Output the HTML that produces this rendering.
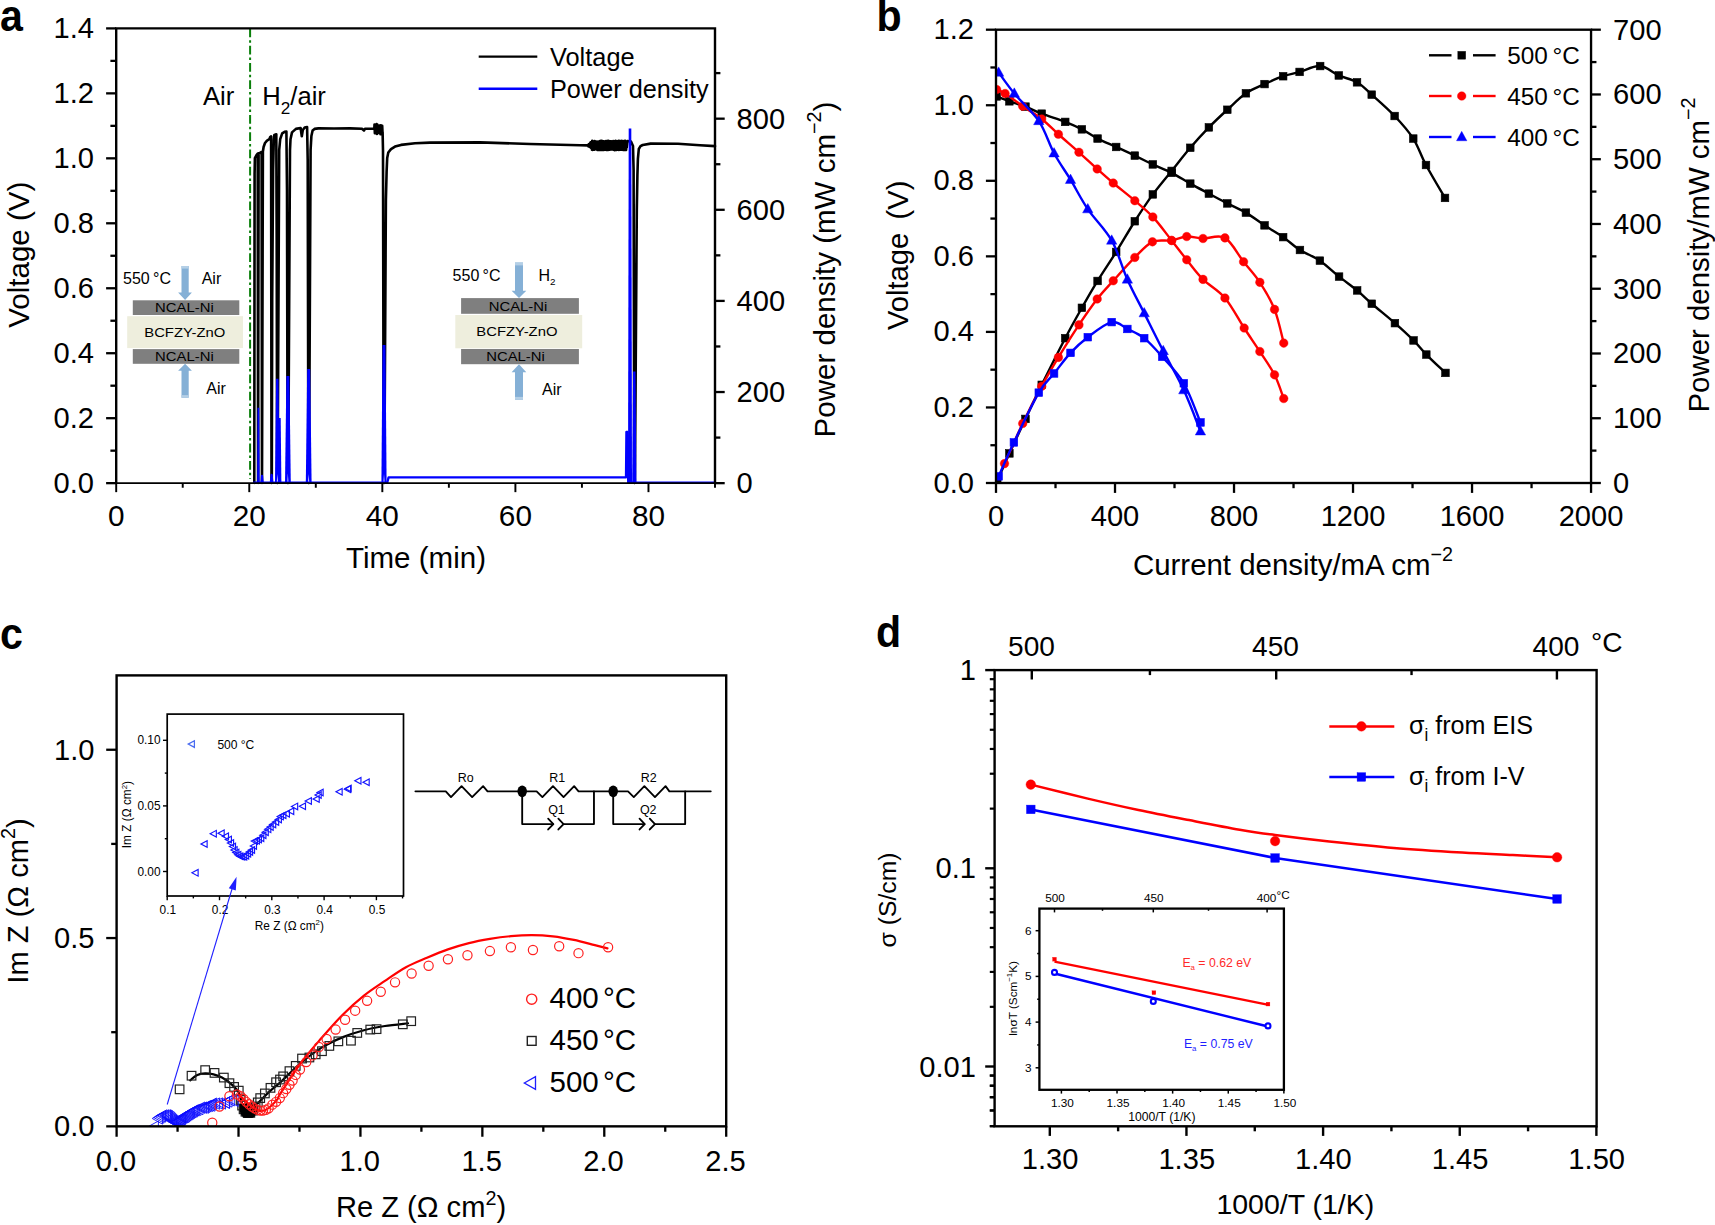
<!DOCTYPE html>
<html lang="en">
<head>
<meta charset="utf-8">
<title>Figure</title>
<style>
html,body{margin:0;padding:0;background:#fff;}
body{width:1715px;height:1225px;overflow:hidden;}
svg{display:block;font-family:'Liberation Sans', sans-serif;}
</style>
</head>
<body>
<svg width="1715" height="1225" viewBox="0 0 1715 1225">
<rect x="0" y="0" width="1715" height="1225" fill="#fff"/>
<g id="panel-a">
<line x1="250.1" y1="28.4" x2="250.1" y2="479" stroke="#0b7f0b" stroke-width="2" stroke-dasharray="8.8 3 2.5 3"/>
<rect x="132.8" y="300.3" width="106.5" height="14.7" fill="#7f7f7f"/>
<rect x="127.2" y="316.2" width="115.8" height="31.9" fill="#eeeedd"/>
<rect x="132.8" y="349.1" width="106.5" height="14.7" fill="#7f7f7f"/>
<polygon points="181.5,266 188.7,266 188.7,292.4 191.9,292.4 185.1,299.9 178.1,292.4 181.5,292.4" fill="#85b0d6"/>
<polygon points="181.5,397.7 188.7,397.7 188.7,370.8 191.9,370.8 185.1,363.8 178.1,370.8 181.5,370.8" fill="#85b0d6"/>
<text transform="translate(123 284.4) scale(1.04 1.04)" font-size="15.4" text-anchor="start" fill="#000" font-weight="normal" >550</text>
<text transform="translate(153 284.4) scale(1.04 1.04)" font-size="15.4" text-anchor="start" fill="#000" font-weight="normal" >°C</text>
<text transform="translate(201.7 284.4) scale(1.04 1.04)" font-size="15.4" text-anchor="start" fill="#000" font-weight="normal" >Air</text>
<text transform="translate(184.4 312) scale(1.17 1.04)" font-size="12.7" text-anchor="middle" fill="#000" font-weight="normal" >NCAL-Ni</text>
<text transform="translate(184.8 336.8) scale(1.17 1.04)" font-size="12.7" text-anchor="middle" fill="#000" font-weight="normal" >BCFZY-ZnO</text>
<text transform="translate(184.4 361) scale(1.17 1.04)" font-size="12.7" text-anchor="middle" fill="#000" font-weight="normal" >NCAL-Ni</text>
<text transform="translate(206.3 394) scale(1.04 1.04)" font-size="15.4" text-anchor="start" fill="#000" font-weight="normal" >Air</text>
<rect x="461.1" y="298.1" width="117.8" height="15.7" fill="#7f7f7f"/>
<rect x="455.3" y="315" width="126.9" height="33.3" fill="#eeeedd"/>
<rect x="461.1" y="349" width="117.8" height="15.2" fill="#7f7f7f"/>
<polygon points="515,262.6 523,262.6 523,290.7 526.3,290.7 519,298 511.6,290.7 515,290.7" fill="#85b0d6"/>
<polygon points="515,399.7 523,399.7 523,372.2 526.3,372.2 519,364.3 511.6,372.2 515,372.2" fill="#85b0d6"/>
<text transform="translate(452.6 281.3) scale(1.04 1.04)" font-size="15.4" text-anchor="start" fill="#000" font-weight="normal" >550</text>
<text transform="translate(482.6 281.3) scale(1.04 1.04)" font-size="15.4" text-anchor="start" fill="#000" font-weight="normal" >°C</text>
<text transform="translate(538.5 281.3) scale(1.04 1.04)" font-size="15.4" text-anchor="start" fill="#000">H<tspan font-size="9.5" dy="3.5">2</tspan></text>
<text transform="translate(518 310.7) scale(1.17 1.04)" font-size="12.7" text-anchor="middle" fill="#000" font-weight="normal" >NCAL-Ni</text>
<text transform="translate(516.9 335.8) scale(1.17 1.04)" font-size="12.7" text-anchor="middle" fill="#000" font-weight="normal" >BCFZY-ZnO</text>
<text transform="translate(515.5 360.9) scale(1.17 1.04)" font-size="12.7" text-anchor="middle" fill="#000" font-weight="normal" >NCAL-Ni</text>
<text transform="translate(542 395.2) scale(1.04 1.04)" font-size="15.4" text-anchor="start" fill="#000" font-weight="normal" >Air</text>
<rect x="181.5" y="266" width="7.2" height="2.6" fill="#b4cfe6"/>
<rect x="181.5" y="395.1" width="7.2" height="2.6" fill="#b4cfe6"/>
<rect x="515" y="262.6" width="8" height="2.8" fill="#b4cfe6"/>
<rect x="515" y="396.9" width="8" height="2.8" fill="#b4cfe6"/>
<polyline points="254.3,482.85 254.6,174 254.9,158 256.5,155 257.7,153.6 258.1,482.85 258.6,153.2 259.8,152.9 261.6,152 262,482.85 262.9,151.5 263.6,147 265,143 267,140.6 269.4,139.2 270.2,137 271.1,136.4 271.5,482.85 271.8,482.85 272.2,300 273.1,170 273.8,140 274.3,135 276.3,134.3 276.7,240 277.1,482.85 277.6,482.85 279.2,150 280.2,139.2 282.2,133.3 284.6,131.8 286.4,131.5 287,190 287.6,482.85 288.2,482.85 290,150 290.5,139.2 292,132.4 295.9,128.9 300.6,128 301.8,136.3 302.8,130 304.7,127.5 307.1,127 307.7,160 308.4,482.85 309,482.85 310.6,150 311.4,136 312.6,130.5 314.5,128.9 318.4,128.4 334,128.5 350,128.4 362,128.7 364,130.5 365,128.7 374.3,128.5 374.5,124.59 374.85,133.13 375.2,124.92 375.55,133.31 375.9,125.56 376.25,131.7 376.6,124.03 376.95,134.01 377.3,124.65 377.65,132.2 378,126.49 378.35,132.91 378.7,126.09 379.05,132.93 379.4,125.6 379.75,131.95 380.1,125.59 380.45,134.1 380.8,125.31 381.15,133.72 381.5,125.68 381.85,131.69 382.2,125.9 382.55,133.27 382.6,132 383,150 383.7,482.85 384.3,482.85 385.9,200 386.6,172 387.2,158 388.3,152.5 391,149.1 395,146.6 401,144.9 415,143.2 430,142.6 480,142.4 530,144 580,145.3 587.5,145.4 588,144.76 588.3,146.36 588.6,144.88 588.9,146.39 589.2,144.15 589.5,146.46 589.8,143.59 590.1,146.96 590.4,142.65 590.7,147.66 591,142.16 591.3,148.05 591.6,142.12 591.9,149.61 592.2,140.86 592.5,149.84 592.8,141.86 593.1,149.58 593.4,141.45 593.7,149.74 594,141.31 594.3,149.64 594.6,141.12 594.9,149.4 595.2,141.4 595.5,149.01 595.8,141.52 596.1,148.99 596.4,141.73 596.7,148.91 597,141.51 597.3,149.9 597.6,141.73 597.9,148.94 598.2,141.79 598.5,149.42 598.8,141.56 599.1,149.85 599.4,141.7 599.7,149.41 600,141.04 600.3,150.02 600.6,141.72 600.9,148.91 601.2,140.81 601.5,149.14 601.8,141.19 602.1,149.92 602.4,141.05 602.7,149.18 603,141.75 603.3,150.05 603.6,141.44 603.9,150.05 604.2,141.56 604.5,149.7 604.8,141.76 605.1,148.92 605.4,141.31 605.7,148.9 606,141.07 606.3,150.01 606.6,141.42 606.9,150.06 607.2,140.94 607.5,149.61 607.8,141.43 608.1,149.91 608.4,140.75 608.7,149.06 609,141.08 609.3,148.95 609.6,141.78 609.9,149.65 610.2,141.25 610.5,149.48 610.8,141.47 611.1,149.39 611.4,141.37 611.7,149.36 612,141.83 612.3,149.49 612.6,141.22 612.9,149.24 613.2,140.99 613.5,149.74 613.8,141.87 614.1,149.47 614.4,141.36 614.7,150.09 615,141.2 615.3,149.4 615.6,140.72 615.9,149.36 616.2,141.46 616.5,150.03 616.8,141.45 617.1,149.54 617.4,141.52 617.7,149.68 618,141.55 618.3,149.21 618.6,140.73 618.9,150.03 619.2,141.51 619.5,148.94 619.8,141 620.1,149.55 620.4,141.41 620.7,149.72 621,141.14 621.3,149.72 621.6,141.14 621.9,149.39 622.2,141.06 622.5,149.65 622.8,141.63 623.1,150.07 623.4,141.38 623.7,149.22 624,141.07 624.3,149.83 624.6,141.66 624.9,149.81 625.2,140.92 625.5,149.58 625.8,141.54 626.1,149.98 626.4,143.29 626.7,147.5 627.5,141 631,141.5 633,146 633.6,170 634.3,482.85 634.9,482.85 636.8,210 637.4,175 637.9,158.8 638.8,149 640.5,146.2 642.7,145 650.6,143.6 678,143.7 700,145.2 715,146.1" fill="none" stroke="#000" stroke-width="2.6" stroke-linejoin="round" stroke-linecap="round" stroke-linejoin="miter"/>
<polyline points="254,482.7 261.6,482.7 262,476 262.6,482.7 270.9,482.7 271.6,475 272.3,482.7 387.2,482.7 388.6,477.4 626,477.4 626.4,432 627.6,432 628.2,482.7 715,482.7" fill="none" stroke="#0000ff" stroke-width="2.3" stroke-linejoin="round" stroke-linecap="round" stroke-linejoin="miter"/>
<polygon points="257.1,483.7 257.5,407.7 259.3,407.7 259.7,483.7" fill="#0000ff"/>
<polygon points="275,483.7 276.1,378.8 278.5,378.8 279.6,483.7" fill="#0000ff"/>
<polygon points="276.85,481.5 277.3,473.7 277.75,481.5" fill="#fff"/>
<polygon points="278,483.7 278.7,418 280.7,418 281.4,483.7" fill="#0000ff"/>
<polygon points="285,483.7 286.4,375.9 289.4,375.9 290.8,483.7" fill="#0000ff"/>
<polygon points="287.45,481.5 287.9,473.7 288.35,481.5" fill="#fff"/>
<polygon points="305.8,483.7 307.2,369 310.2,369 311.6,483.7" fill="#0000ff"/>
<polygon points="308.25,481.5 308.7,473.7 309.15,481.5" fill="#fff"/>
<polygon points="381.4,483.7 382.5,345 385.5,345 386.6,483.7" fill="#0000ff"/>
<polygon points="383.55,481.5 384,473.7 384.45,481.5" fill="#fff"/>
<polygon points="628,483.7 628.7,128.4 631.3,128.4 632,483.7" fill="#0000ff"/>
<polygon points="632.2,483.7 633.1,371.4 635.5,371.4 636.4,483.7" fill="#0000ff"/>
<polyline points="116.2,483.95 116.2,28.4 715.0,28.4 715.0,483.95" fill="none" stroke="#000" stroke-width="2.4" stroke-linejoin="miter"/>
<line x1="115.05" y1="483" x2="716.15" y2="483" stroke="#000" stroke-width="1.75" />
<line x1="106.1" y1="483.15" x2="116.2" y2="483.15" stroke="#000" stroke-width="2.3" />
<text transform="translate(94 493.15) scale(1.04 1.04)" font-size="28" text-anchor="end" fill="#000" font-weight="normal" >0.0</text>
<line x1="110.4" y1="450.67" x2="116.2" y2="450.67" stroke="#000" stroke-width="2.3" />
<line x1="106.1" y1="418.19" x2="116.2" y2="418.19" stroke="#000" stroke-width="2.3" />
<text transform="translate(94 428.19) scale(1.04 1.04)" font-size="28" text-anchor="end" fill="#000" font-weight="normal" >0.2</text>
<line x1="110.4" y1="385.7" x2="116.2" y2="385.7" stroke="#000" stroke-width="2.3" />
<line x1="106.1" y1="353.22" x2="116.2" y2="353.22" stroke="#000" stroke-width="2.3" />
<text transform="translate(94 363.22) scale(1.04 1.04)" font-size="28" text-anchor="end" fill="#000" font-weight="normal" >0.4</text>
<line x1="110.4" y1="320.74" x2="116.2" y2="320.74" stroke="#000" stroke-width="2.3" />
<line x1="106.1" y1="288.26" x2="116.2" y2="288.26" stroke="#000" stroke-width="2.3" />
<text transform="translate(94 298.26) scale(1.04 1.04)" font-size="28" text-anchor="end" fill="#000" font-weight="normal" >0.6</text>
<line x1="110.4" y1="255.77" x2="116.2" y2="255.77" stroke="#000" stroke-width="2.3" />
<line x1="106.1" y1="223.29" x2="116.2" y2="223.29" stroke="#000" stroke-width="2.3" />
<text transform="translate(94 233.29) scale(1.04 1.04)" font-size="28" text-anchor="end" fill="#000" font-weight="normal" >0.8</text>
<line x1="110.4" y1="190.81" x2="116.2" y2="190.81" stroke="#000" stroke-width="2.3" />
<line x1="106.1" y1="158.33" x2="116.2" y2="158.33" stroke="#000" stroke-width="2.3" />
<text transform="translate(94 168.33) scale(1.04 1.04)" font-size="28" text-anchor="end" fill="#000" font-weight="normal" >1.0</text>
<line x1="110.4" y1="125.85" x2="116.2" y2="125.85" stroke="#000" stroke-width="2.3" />
<line x1="106.1" y1="93.36" x2="116.2" y2="93.36" stroke="#000" stroke-width="2.3" />
<text transform="translate(94 103.36) scale(1.04 1.04)" font-size="28" text-anchor="end" fill="#000" font-weight="normal" >1.2</text>
<line x1="110.4" y1="60.88" x2="116.2" y2="60.88" stroke="#000" stroke-width="2.3" />
<line x1="106.1" y1="28.4" x2="116.2" y2="28.4" stroke="#000" stroke-width="2.3" />
<text transform="translate(94 38.4) scale(1.04 1.04)" font-size="28" text-anchor="end" fill="#000" font-weight="normal" >1.4</text>
<line x1="116.2" y1="483.15" x2="116.2" y2="492.15" stroke="#000" stroke-width="1.95" />
<text transform="translate(116.2 526.2) scale(1.04 1.04)" font-size="28.6" text-anchor="middle" fill="#000" font-weight="normal" >0</text>
<line x1="182.73" y1="483.15" x2="182.73" y2="487.75" stroke="#000" stroke-width="1.95" />
<line x1="249.27" y1="483.15" x2="249.27" y2="492.15" stroke="#000" stroke-width="1.95" />
<text transform="translate(249.27 526.2) scale(1.04 1.04)" font-size="28.6" text-anchor="middle" fill="#000" font-weight="normal" >20</text>
<line x1="315.8" y1="483.15" x2="315.8" y2="487.75" stroke="#000" stroke-width="1.95" />
<line x1="382.33" y1="483.15" x2="382.33" y2="492.15" stroke="#000" stroke-width="1.95" />
<text transform="translate(382.33 526.2) scale(1.04 1.04)" font-size="28.6" text-anchor="middle" fill="#000" font-weight="normal" >40</text>
<line x1="448.87" y1="483.15" x2="448.87" y2="487.75" stroke="#000" stroke-width="1.95" />
<line x1="515.4" y1="483.15" x2="515.4" y2="492.15" stroke="#000" stroke-width="1.95" />
<text transform="translate(515.4 526.2) scale(1.04 1.04)" font-size="28.6" text-anchor="middle" fill="#000" font-weight="normal" >60</text>
<line x1="581.93" y1="483.15" x2="581.93" y2="487.75" stroke="#000" stroke-width="1.95" />
<line x1="648.47" y1="483.15" x2="648.47" y2="492.15" stroke="#000" stroke-width="1.95" />
<text transform="translate(648.47 526.2) scale(1.04 1.04)" font-size="28.6" text-anchor="middle" fill="#000" font-weight="normal" >80</text>
<line x1="715" y1="483.15" x2="715" y2="487.75" stroke="#000" stroke-width="1.95" />
<line x1="715" y1="483.15" x2="724.7" y2="483.15" stroke="#000" stroke-width="2.3" />
<text transform="translate(736.5 493.15) scale(1.04 1.04)" font-size="28" text-anchor="start" fill="#000" font-weight="normal" >0</text>
<line x1="715" y1="437.59" x2="720.4" y2="437.59" stroke="#000" stroke-width="2.3" />
<line x1="715" y1="392.03" x2="724.7" y2="392.03" stroke="#000" stroke-width="2.3" />
<text transform="translate(736.5 402.03) scale(1.04 1.04)" font-size="28" text-anchor="start" fill="#000" font-weight="normal" >200</text>
<line x1="715" y1="346.47" x2="720.4" y2="346.47" stroke="#000" stroke-width="2.3" />
<line x1="715" y1="300.91" x2="724.7" y2="300.91" stroke="#000" stroke-width="2.3" />
<text transform="translate(736.5 310.91) scale(1.04 1.04)" font-size="28" text-anchor="start" fill="#000" font-weight="normal" >400</text>
<line x1="715" y1="255.35" x2="720.4" y2="255.35" stroke="#000" stroke-width="2.3" />
<line x1="715" y1="209.79" x2="724.7" y2="209.79" stroke="#000" stroke-width="2.3" />
<text transform="translate(736.5 219.79) scale(1.04 1.04)" font-size="28" text-anchor="start" fill="#000" font-weight="normal" >600</text>
<line x1="715" y1="164.23" x2="720.4" y2="164.23" stroke="#000" stroke-width="2.3" />
<line x1="715" y1="118.67" x2="724.7" y2="118.67" stroke="#000" stroke-width="2.3" />
<text transform="translate(736.5 128.67) scale(1.04 1.04)" font-size="28" text-anchor="start" fill="#000" font-weight="normal" >800</text>
<line x1="715" y1="73.11" x2="720.4" y2="73.11" stroke="#000" stroke-width="2.3" />
<text transform="translate(28.7 254.7) rotate(-90) scale(1.04 1.04)" font-size="28.4" text-anchor="middle" fill="#000" font-weight="normal" >Voltage (V)</text>
<text transform="translate(416 568) scale(1.04 1.04)" font-size="28.4" text-anchor="middle" fill="#000" font-weight="normal" >Time (min)</text>
<text transform="translate(835.3 269.5) rotate(-90) scale(1.04 1.04)" font-size="28.4" text-anchor="middle" fill="#000">Power density (mW cm<tspan font-size="19" dy="-13.5">−2</tspan><tspan dy="13.5">)</tspan></text>
<line x1="478.7" y1="56.6" x2="537.3" y2="56.6" stroke="#000" stroke-width="2.4" />
<line x1="478.7" y1="88.7" x2="537.3" y2="88.7" stroke="#0000ff" stroke-width="2.4" />
<text transform="translate(550 65.8) scale(1.04 1.04)" font-size="24.4" text-anchor="start" fill="#000" font-weight="normal" >Voltage</text>
<text transform="translate(550 97.5) scale(1.04 1.04)" font-size="24.3" text-anchor="start" fill="#000" font-weight="normal" >Power density</text>
<text transform="translate(203 105) scale(1.04 1.04)" font-size="24.6" text-anchor="start" fill="#000" font-weight="normal" >Air</text>
<text transform="translate(262.3 105) scale(1.04 1.04)" font-size="24.6" text-anchor="start" fill="#000">H<tspan font-size="16.5" dy="8.6">2</tspan><tspan dy="-8.6">/air</tspan></text>
<text transform="translate(0 30.7) scale(0.98 1.04)" font-size="42" text-anchor="start" fill="#000" font-weight="bold" >a</text>
</g>
<g id="panel-b">
<clipPath id="clipb"><rect x="996.0" y="29.7" width="595.05" height="453.3"/></clipPath>
<g clip-path="url(#clipb)">
<path d="M996.66,96.43 C998.78,97.24 1004.59,99.63 1009.39,101.32 C1014.2,103.02 1020.07,104.56 1025.46,106.62 C1030.85,108.67 1035.1,111.12 1041.73,113.67 C1048.36,116.22 1058.55,119.29 1065.24,121.9 C1071.94,124.51 1076.51,126.57 1081.9,129.35 C1087.29,132.12 1091.86,135.62 1097.58,138.56 C1103.29,141.5 1109.99,144.14 1116.19,146.98 C1122.4,149.83 1128.7,152.7 1134.81,155.61 C1140.92,158.51 1146.7,161.55 1152.84,164.42 C1158.98,167.3 1165.41,169.65 1171.65,172.85 C1177.89,176.05 1184.06,180.17 1190.27,183.63 C1196.47,187.09 1202.71,190.32 1208.88,193.62 C1215.06,196.92 1221.13,200.25 1227.31,203.42 C1233.48,206.59 1239.72,208.97 1245.92,212.63 C1252.13,216.29 1258.33,221.29 1264.54,225.37 C1270.74,229.45 1277.25,233.02 1283.16,237.13 C1289.06,241.23 1293.83,246.08 1299.95,250 C1306.08,253.92 1313.39,256.21 1319.9,260.64 C1326.42,265.07 1332.85,271.64 1339.06,276.6 C1345.27,281.57 1351.69,285.91 1357.15,290.44 C1362.6,294.96 1365.48,298.28 1371.78,303.74 C1378.08,309.19 1387.96,317.04 1394.92,323.16 C1401.89,329.28 1408.31,335.22 1413.55,340.45 C1418.78,345.68 1420.99,349.14 1426.32,354.55 C1431.64,359.96 1442.28,369.85 1445.47,372.91" fill="none" stroke="#000" stroke-width="2.4" stroke-linejoin="round" stroke-linecap="round" />
<path d="M997.24,480.84 C999.27,476.27 1004.69,463.73 1009.39,453.41 C1014.1,443.09 1020.07,430.35 1025.46,418.92 C1030.85,407.49 1035.1,398.28 1041.73,384.82 C1048.36,371.37 1058.55,351.02 1065.24,338.18 C1071.94,325.35 1076.51,317.35 1081.9,307.81 C1087.29,298.27 1091.86,290.27 1097.58,280.96 C1103.29,271.65 1109.99,261.91 1116.19,251.96 C1122.4,242.01 1128.7,230.85 1134.81,221.25 C1140.92,211.66 1146.7,202.8 1152.84,194.41 C1158.98,186.01 1165.41,178.66 1171.65,170.89 C1177.89,163.12 1184.06,155.02 1190.27,147.77 C1196.47,140.52 1202.71,133.72 1208.88,127.39 C1215.06,121.05 1221.13,115.43 1227.31,109.75 C1233.48,104.07 1239.72,97.57 1245.92,93.29 C1252.13,89.01 1258.33,86.92 1264.54,84.08 C1270.74,81.24 1277.31,78.27 1283.16,76.24 C1289,74.22 1293.43,73.63 1299.6,71.93 C1305.77,70.23 1313.64,65.46 1320.17,66.05 C1326.7,66.64 1332.65,72.75 1338.79,75.46 C1344.93,78.17 1351.53,79.12 1357.01,82.32 C1362.5,85.52 1365.44,89.04 1371.71,94.66 C1377.98,100.28 1387.71,108.71 1394.64,116.02 C1401.56,123.34 1408.03,130.39 1413.25,138.56 C1418.48,146.72 1420.7,155.12 1425.99,165.01 C1431.28,174.91 1441.83,192.45 1445,197.93" fill="none" stroke="#000" stroke-width="2.4" stroke-linejoin="round" stroke-linecap="round" />
<rect x="992.86" y="92.63" width="7.6" height="7.6" fill="#000" stroke="#000" stroke-width="0.6"/>
<rect x="1005.59" y="97.52" width="7.6" height="7.6" fill="#000" stroke="#000" stroke-width="0.6"/>
<rect x="1021.66" y="102.82" width="7.6" height="7.6" fill="#000" stroke="#000" stroke-width="0.6"/>
<rect x="1037.93" y="109.87" width="7.6" height="7.6" fill="#000" stroke="#000" stroke-width="0.6"/>
<rect x="1061.44" y="118.1" width="7.6" height="7.6" fill="#000" stroke="#000" stroke-width="0.6"/>
<rect x="1078.1" y="125.55" width="7.6" height="7.6" fill="#000" stroke="#000" stroke-width="0.6"/>
<rect x="1093.78" y="134.76" width="7.6" height="7.6" fill="#000" stroke="#000" stroke-width="0.6"/>
<rect x="1112.39" y="143.18" width="7.6" height="7.6" fill="#000" stroke="#000" stroke-width="0.6"/>
<rect x="1131.01" y="151.81" width="7.6" height="7.6" fill="#000" stroke="#000" stroke-width="0.6"/>
<rect x="1149.04" y="160.62" width="7.6" height="7.6" fill="#000" stroke="#000" stroke-width="0.6"/>
<rect x="1167.85" y="169.05" width="7.6" height="7.6" fill="#000" stroke="#000" stroke-width="0.6"/>
<rect x="1186.47" y="179.83" width="7.6" height="7.6" fill="#000" stroke="#000" stroke-width="0.6"/>
<rect x="1205.08" y="189.82" width="7.6" height="7.6" fill="#000" stroke="#000" stroke-width="0.6"/>
<rect x="1223.51" y="199.62" width="7.6" height="7.6" fill="#000" stroke="#000" stroke-width="0.6"/>
<rect x="1242.12" y="208.83" width="7.6" height="7.6" fill="#000" stroke="#000" stroke-width="0.6"/>
<rect x="1260.74" y="221.57" width="7.6" height="7.6" fill="#000" stroke="#000" stroke-width="0.6"/>
<rect x="1279.36" y="233.33" width="7.6" height="7.6" fill="#000" stroke="#000" stroke-width="0.6"/>
<rect x="1296.15" y="246.2" width="7.6" height="7.6" fill="#000" stroke="#000" stroke-width="0.6"/>
<rect x="1316.1" y="256.84" width="7.6" height="7.6" fill="#000" stroke="#000" stroke-width="0.6"/>
<rect x="1335.26" y="272.8" width="7.6" height="7.6" fill="#000" stroke="#000" stroke-width="0.6"/>
<rect x="1353.35" y="286.64" width="7.6" height="7.6" fill="#000" stroke="#000" stroke-width="0.6"/>
<rect x="1367.98" y="299.94" width="7.6" height="7.6" fill="#000" stroke="#000" stroke-width="0.6"/>
<rect x="1391.12" y="319.36" width="7.6" height="7.6" fill="#000" stroke="#000" stroke-width="0.6"/>
<rect x="1409.75" y="336.65" width="7.6" height="7.6" fill="#000" stroke="#000" stroke-width="0.6"/>
<rect x="1422.52" y="350.75" width="7.6" height="7.6" fill="#000" stroke="#000" stroke-width="0.6"/>
<rect x="1441.67" y="369.11" width="7.6" height="7.6" fill="#000" stroke="#000" stroke-width="0.6"/>
<rect x="993.44" y="477.04" width="7.6" height="7.6" fill="#000" stroke="#000" stroke-width="0.6"/>
<rect x="1005.59" y="449.61" width="7.6" height="7.6" fill="#000" stroke="#000" stroke-width="0.6"/>
<rect x="1021.66" y="415.12" width="7.6" height="7.6" fill="#000" stroke="#000" stroke-width="0.6"/>
<rect x="1037.93" y="381.02" width="7.6" height="7.6" fill="#000" stroke="#000" stroke-width="0.6"/>
<rect x="1061.44" y="334.38" width="7.6" height="7.6" fill="#000" stroke="#000" stroke-width="0.6"/>
<rect x="1078.1" y="304.01" width="7.6" height="7.6" fill="#000" stroke="#000" stroke-width="0.6"/>
<rect x="1093.78" y="277.16" width="7.6" height="7.6" fill="#000" stroke="#000" stroke-width="0.6"/>
<rect x="1112.39" y="248.16" width="7.6" height="7.6" fill="#000" stroke="#000" stroke-width="0.6"/>
<rect x="1131.01" y="217.45" width="7.6" height="7.6" fill="#000" stroke="#000" stroke-width="0.6"/>
<rect x="1149.04" y="190.61" width="7.6" height="7.6" fill="#000" stroke="#000" stroke-width="0.6"/>
<rect x="1167.85" y="167.09" width="7.6" height="7.6" fill="#000" stroke="#000" stroke-width="0.6"/>
<rect x="1186.47" y="143.97" width="7.6" height="7.6" fill="#000" stroke="#000" stroke-width="0.6"/>
<rect x="1205.08" y="123.59" width="7.6" height="7.6" fill="#000" stroke="#000" stroke-width="0.6"/>
<rect x="1223.51" y="105.95" width="7.6" height="7.6" fill="#000" stroke="#000" stroke-width="0.6"/>
<rect x="1242.12" y="89.49" width="7.6" height="7.6" fill="#000" stroke="#000" stroke-width="0.6"/>
<rect x="1260.74" y="80.28" width="7.6" height="7.6" fill="#000" stroke="#000" stroke-width="0.6"/>
<rect x="1279.36" y="72.44" width="7.6" height="7.6" fill="#000" stroke="#000" stroke-width="0.6"/>
<rect x="1295.8" y="68.13" width="7.6" height="7.6" fill="#000" stroke="#000" stroke-width="0.6"/>
<rect x="1316.37" y="62.25" width="7.6" height="7.6" fill="#000" stroke="#000" stroke-width="0.6"/>
<rect x="1334.99" y="71.66" width="7.6" height="7.6" fill="#000" stroke="#000" stroke-width="0.6"/>
<rect x="1353.21" y="78.52" width="7.6" height="7.6" fill="#000" stroke="#000" stroke-width="0.6"/>
<rect x="1367.91" y="90.86" width="7.6" height="7.6" fill="#000" stroke="#000" stroke-width="0.6"/>
<rect x="1390.84" y="112.22" width="7.6" height="7.6" fill="#000" stroke="#000" stroke-width="0.6"/>
<rect x="1409.45" y="134.76" width="7.6" height="7.6" fill="#000" stroke="#000" stroke-width="0.6"/>
<rect x="1422.19" y="161.21" width="7.6" height="7.6" fill="#000" stroke="#000" stroke-width="0.6"/>
<rect x="1441.2" y="194.13" width="7.6" height="7.6" fill="#000" stroke="#000" stroke-width="0.6"/>
<path d="M996.66,89.57 C998.06,90.22 1000.74,90.71 1005.08,93.49 C1009.43,96.26 1016.61,101.98 1022.72,106.22 C1028.83,110.47 1035.78,114.29 1041.73,118.96 C1047.67,123.63 1052.18,128.69 1058.39,134.25 C1064.59,139.8 1072.49,146.49 1078.96,152.28 C1085.43,158.06 1091.47,163.8 1097.19,168.93 C1102.9,174.06 1106.98,177.75 1113.25,183.04 C1119.53,188.33 1128.21,195.03 1134.81,200.68 C1141.41,206.33 1146.7,210.31 1152.84,216.94 C1158.98,223.57 1166,233.32 1171.65,240.46 C1177.3,247.6 1181.52,253.31 1186.74,259.8 C1191.97,266.29 1196.64,273.03 1203.01,279.39 C1209.37,285.76 1218.1,289.91 1224.95,298.01 C1231.81,306.11 1238.34,319.08 1244.16,327.99 C1249.97,336.91 1254.77,343.7 1259.84,351.51 C1264.9,359.31 1270.55,366.99 1274.53,374.83 C1278.52,382.67 1282.21,394.59 1283.74,398.54" fill="none" stroke="#ff0000" stroke-width="2.4" stroke-linejoin="round" stroke-linecap="round" />
<path d="M1004.5,463.6 C1007.53,456.9 1016.51,436.33 1022.72,423.43 C1028.93,410.53 1035.78,397.2 1041.73,386.19 C1047.67,375.19 1052.18,367.61 1058.39,357.39 C1064.59,347.17 1072.49,334.59 1078.96,324.86 C1085.43,315.13 1091.47,306.34 1097.19,298.99 C1102.9,291.64 1106.98,287.69 1113.25,280.77 C1119.53,273.84 1128.28,263.94 1134.81,257.45 C1141.34,250.96 1146.31,244.66 1152.45,241.83 C1158.59,239 1165.94,241.34 1171.65,240.46 C1177.37,239.58 1181.52,236.87 1186.74,236.54 C1191.97,236.21 1196.64,238.27 1203.01,238.5 C1209.37,238.73 1218.19,234.03 1224.95,237.91 C1231.71,241.79 1237.76,254.35 1243.57,261.76 C1249.38,269.16 1254.68,274.4 1259.84,282.33 C1265,290.27 1270.55,299.25 1274.53,309.38 C1278.52,319.5 1282.21,337.46 1283.74,343.08" fill="none" stroke="#ff0000" stroke-width="2.4" stroke-linejoin="round" stroke-linecap="round" />
<circle cx="996.66" cy="89.57" r="4.3" fill="#ff0000" stroke="#ff0000" stroke-width="0.4"/>
<circle cx="1005.08" cy="93.49" r="4.3" fill="#ff0000" stroke="#ff0000" stroke-width="0.4"/>
<circle cx="1022.72" cy="106.22" r="4.3" fill="#ff0000" stroke="#ff0000" stroke-width="0.4"/>
<circle cx="1041.73" cy="118.96" r="4.3" fill="#ff0000" stroke="#ff0000" stroke-width="0.4"/>
<circle cx="1058.39" cy="134.25" r="4.3" fill="#ff0000" stroke="#ff0000" stroke-width="0.4"/>
<circle cx="1078.96" cy="152.28" r="4.3" fill="#ff0000" stroke="#ff0000" stroke-width="0.4"/>
<circle cx="1097.19" cy="168.93" r="4.3" fill="#ff0000" stroke="#ff0000" stroke-width="0.4"/>
<circle cx="1113.25" cy="183.04" r="4.3" fill="#ff0000" stroke="#ff0000" stroke-width="0.4"/>
<circle cx="1134.81" cy="200.68" r="4.3" fill="#ff0000" stroke="#ff0000" stroke-width="0.4"/>
<circle cx="1152.84" cy="216.94" r="4.3" fill="#ff0000" stroke="#ff0000" stroke-width="0.4"/>
<circle cx="1171.65" cy="240.46" r="4.3" fill="#ff0000" stroke="#ff0000" stroke-width="0.4"/>
<circle cx="1186.74" cy="259.8" r="4.3" fill="#ff0000" stroke="#ff0000" stroke-width="0.4"/>
<circle cx="1203.01" cy="279.39" r="4.3" fill="#ff0000" stroke="#ff0000" stroke-width="0.4"/>
<circle cx="1224.95" cy="298.01" r="4.3" fill="#ff0000" stroke="#ff0000" stroke-width="0.4"/>
<circle cx="1244.16" cy="327.99" r="4.3" fill="#ff0000" stroke="#ff0000" stroke-width="0.4"/>
<circle cx="1259.84" cy="351.51" r="4.3" fill="#ff0000" stroke="#ff0000" stroke-width="0.4"/>
<circle cx="1274.53" cy="374.83" r="4.3" fill="#ff0000" stroke="#ff0000" stroke-width="0.4"/>
<circle cx="1283.74" cy="398.54" r="4.3" fill="#ff0000" stroke="#ff0000" stroke-width="0.4"/>
<circle cx="1004.5" cy="463.6" r="4.3" fill="#ff0000" stroke="#ff0000" stroke-width="0.4"/>
<circle cx="1022.72" cy="423.43" r="4.3" fill="#ff0000" stroke="#ff0000" stroke-width="0.4"/>
<circle cx="1041.73" cy="386.19" r="4.3" fill="#ff0000" stroke="#ff0000" stroke-width="0.4"/>
<circle cx="1058.39" cy="357.39" r="4.3" fill="#ff0000" stroke="#ff0000" stroke-width="0.4"/>
<circle cx="1078.96" cy="324.86" r="4.3" fill="#ff0000" stroke="#ff0000" stroke-width="0.4"/>
<circle cx="1097.19" cy="298.99" r="4.3" fill="#ff0000" stroke="#ff0000" stroke-width="0.4"/>
<circle cx="1113.25" cy="280.77" r="4.3" fill="#ff0000" stroke="#ff0000" stroke-width="0.4"/>
<circle cx="1134.81" cy="257.45" r="4.3" fill="#ff0000" stroke="#ff0000" stroke-width="0.4"/>
<circle cx="1152.45" cy="241.83" r="4.3" fill="#ff0000" stroke="#ff0000" stroke-width="0.4"/>
<circle cx="1171.65" cy="240.46" r="4.3" fill="#ff0000" stroke="#ff0000" stroke-width="0.4"/>
<circle cx="1186.74" cy="236.54" r="4.3" fill="#ff0000" stroke="#ff0000" stroke-width="0.4"/>
<circle cx="1203.01" cy="238.5" r="4.3" fill="#ff0000" stroke="#ff0000" stroke-width="0.4"/>
<circle cx="1224.95" cy="237.91" r="4.3" fill="#ff0000" stroke="#ff0000" stroke-width="0.4"/>
<circle cx="1243.57" cy="261.76" r="4.3" fill="#ff0000" stroke="#ff0000" stroke-width="0.4"/>
<circle cx="1259.84" cy="282.33" r="4.3" fill="#ff0000" stroke="#ff0000" stroke-width="0.4"/>
<circle cx="1274.53" cy="309.38" r="4.3" fill="#ff0000" stroke="#ff0000" stroke-width="0.4"/>
<circle cx="1283.74" cy="343.08" r="4.3" fill="#ff0000" stroke="#ff0000" stroke-width="0.4"/>
<path d="M998.62,72.52 C1001.23,76.01 1007.6,85.42 1014.29,93.49 C1020.99,101.55 1032.16,110.96 1038.79,120.92 C1045.42,130.88 1048.78,143.46 1054.07,153.25 C1059.37,163.05 1064.92,170.4 1070.53,179.71 C1076.15,189.02 1080.92,198.98 1087.78,209.1 C1094.64,219.23 1105.09,228.74 1111.69,240.46 C1118.28,252.17 1121.94,267.29 1127.36,279.39 C1132.79,291.5 1138.24,301.18 1144.22,313.1 C1150.19,325.02 1156.63,338.09 1163.23,350.92 C1169.82,363.76 1177.6,376.72 1183.8,390.11 C1190.01,403.5 1197.68,424.41 1200.46,431.27" fill="none" stroke="#0000ff" stroke-width="2.4" stroke-linejoin="round" stroke-linecap="round" />
<path d="M998.62,476.34 C1001.16,470.69 1007.21,456.38 1013.9,442.44 C1020.6,428.49 1032.09,404.16 1038.79,392.66 C1045.48,381.16 1048.78,380.09 1054.07,373.46 C1059.37,366.83 1064.92,358.92 1070.53,352.88 C1076.15,346.84 1080.92,342.33 1087.78,337.2 C1094.64,332.08 1105.09,323.49 1111.69,322.11 C1118.28,320.74 1121.94,326.29 1127.36,328.97 C1132.79,331.65 1138.4,333.55 1144.22,338.18 C1150.03,342.82 1155.65,349.29 1162.25,356.8 C1168.84,364.31 1177.43,372.31 1183.8,383.25 C1190.17,394.2 1197.68,415.92 1200.46,422.45" fill="none" stroke="#0000ff" stroke-width="2.4" stroke-linejoin="round" stroke-linecap="round" />
<polygon points="998.62,66.88 993.42,76.28 1003.82,76.28" fill="#0000ff" stroke="#0000ff" stroke-width="0.4"/>
<polygon points="1014.29,87.85 1009.09,97.25 1019.49,97.25" fill="#0000ff" stroke="#0000ff" stroke-width="0.4"/>
<polygon points="1038.79,115.28 1033.59,124.68 1043.99,124.68" fill="#0000ff" stroke="#0000ff" stroke-width="0.4"/>
<polygon points="1054.07,147.61 1048.87,157.01 1059.27,157.01" fill="#0000ff" stroke="#0000ff" stroke-width="0.4"/>
<polygon points="1070.53,174.07 1065.33,183.47 1075.73,183.47" fill="#0000ff" stroke="#0000ff" stroke-width="0.4"/>
<polygon points="1087.78,203.46 1082.58,212.86 1092.98,212.86" fill="#0000ff" stroke="#0000ff" stroke-width="0.4"/>
<polygon points="1111.69,234.82 1106.49,244.22 1116.89,244.22" fill="#0000ff" stroke="#0000ff" stroke-width="0.4"/>
<polygon points="1127.36,273.75 1122.16,283.15 1132.56,283.15" fill="#0000ff" stroke="#0000ff" stroke-width="0.4"/>
<polygon points="1144.22,307.46 1139.02,316.86 1149.42,316.86" fill="#0000ff" stroke="#0000ff" stroke-width="0.4"/>
<polygon points="1163.23,345.28 1158.03,354.68 1168.43,354.68" fill="#0000ff" stroke="#0000ff" stroke-width="0.4"/>
<polygon points="1183.8,384.47 1178.6,393.87 1189,393.87" fill="#0000ff" stroke="#0000ff" stroke-width="0.4"/>
<polygon points="1200.46,425.63 1195.26,435.03 1205.66,435.03" fill="#0000ff" stroke="#0000ff" stroke-width="0.4"/>
<rect x="994.82" y="472.54" width="7.6" height="7.6" fill="#0000ff" stroke="#0000ff" stroke-width="0.6"/>
<rect x="1010.1" y="438.64" width="7.6" height="7.6" fill="#0000ff" stroke="#0000ff" stroke-width="0.6"/>
<rect x="1034.99" y="388.86" width="7.6" height="7.6" fill="#0000ff" stroke="#0000ff" stroke-width="0.6"/>
<rect x="1050.27" y="369.66" width="7.6" height="7.6" fill="#0000ff" stroke="#0000ff" stroke-width="0.6"/>
<rect x="1066.73" y="349.08" width="7.6" height="7.6" fill="#0000ff" stroke="#0000ff" stroke-width="0.6"/>
<rect x="1083.98" y="333.4" width="7.6" height="7.6" fill="#0000ff" stroke="#0000ff" stroke-width="0.6"/>
<rect x="1107.89" y="318.31" width="7.6" height="7.6" fill="#0000ff" stroke="#0000ff" stroke-width="0.6"/>
<rect x="1123.56" y="325.17" width="7.6" height="7.6" fill="#0000ff" stroke="#0000ff" stroke-width="0.6"/>
<rect x="1140.42" y="334.38" width="7.6" height="7.6" fill="#0000ff" stroke="#0000ff" stroke-width="0.6"/>
<rect x="1158.45" y="353" width="7.6" height="7.6" fill="#0000ff" stroke="#0000ff" stroke-width="0.6"/>
<rect x="1180" y="379.45" width="7.6" height="7.6" fill="#0000ff" stroke="#0000ff" stroke-width="0.6"/>
<rect x="1196.66" y="418.65" width="7.6" height="7.6" fill="#0000ff" stroke="#0000ff" stroke-width="0.6"/>
</g>
<rect x="996.0" y="29.7" width="595.05" height="453.3" fill="none" stroke="#000" stroke-width="2.35"/>
<line x1="985.9" y1="483" x2="996" y2="483" stroke="#000" stroke-width="2.3" />
<text transform="translate(974 492.5) scale(1.04 1.04)" font-size="28" text-anchor="end" fill="#000" font-weight="normal" >0.0</text>
<line x1="990.4" y1="445.23" x2="996" y2="445.23" stroke="#000" stroke-width="2.3" />
<line x1="985.9" y1="407.45" x2="996" y2="407.45" stroke="#000" stroke-width="2.3" />
<text transform="translate(974 416.95) scale(1.04 1.04)" font-size="28" text-anchor="end" fill="#000" font-weight="normal" >0.2</text>
<line x1="990.4" y1="369.68" x2="996" y2="369.68" stroke="#000" stroke-width="2.3" />
<line x1="985.9" y1="331.9" x2="996" y2="331.9" stroke="#000" stroke-width="2.3" />
<text transform="translate(974 341.4) scale(1.04 1.04)" font-size="28" text-anchor="end" fill="#000" font-weight="normal" >0.4</text>
<line x1="990.4" y1="294.12" x2="996" y2="294.12" stroke="#000" stroke-width="2.3" />
<line x1="985.9" y1="256.35" x2="996" y2="256.35" stroke="#000" stroke-width="2.3" />
<text transform="translate(974 265.85) scale(1.04 1.04)" font-size="28" text-anchor="end" fill="#000" font-weight="normal" >0.6</text>
<line x1="990.4" y1="218.57" x2="996" y2="218.57" stroke="#000" stroke-width="2.3" />
<line x1="985.9" y1="180.8" x2="996" y2="180.8" stroke="#000" stroke-width="2.3" />
<text transform="translate(974 190.3) scale(1.04 1.04)" font-size="28" text-anchor="end" fill="#000" font-weight="normal" >0.8</text>
<line x1="990.4" y1="143.02" x2="996" y2="143.02" stroke="#000" stroke-width="2.3" />
<line x1="985.9" y1="105.25" x2="996" y2="105.25" stroke="#000" stroke-width="2.3" />
<text transform="translate(974 114.75) scale(1.04 1.04)" font-size="28" text-anchor="end" fill="#000" font-weight="normal" >1.0</text>
<line x1="990.4" y1="67.47" x2="996" y2="67.47" stroke="#000" stroke-width="2.3" />
<line x1="985.9" y1="29.7" x2="996" y2="29.7" stroke="#000" stroke-width="2.3" />
<text transform="translate(974 39.2) scale(1.04 1.04)" font-size="28" text-anchor="end" fill="#000" font-weight="normal" >1.2</text>
<line x1="996" y1="483" x2="996" y2="492.9" stroke="#000" stroke-width="2.3" />
<text transform="translate(996 526.4) scale(1.04 1.04)" font-size="28" text-anchor="middle" fill="#000" font-weight="normal" >0</text>
<line x1="1055.51" y1="483" x2="1055.51" y2="488.2" stroke="#000" stroke-width="2.3" />
<line x1="1115.01" y1="483" x2="1115.01" y2="492.9" stroke="#000" stroke-width="2.3" />
<text transform="translate(1115.01 526.4) scale(1.04 1.04)" font-size="28" text-anchor="middle" fill="#000" font-weight="normal" >400</text>
<line x1="1174.51" y1="483" x2="1174.51" y2="488.2" stroke="#000" stroke-width="2.3" />
<line x1="1234.02" y1="483" x2="1234.02" y2="492.9" stroke="#000" stroke-width="2.3" />
<text transform="translate(1234.02 526.4) scale(1.04 1.04)" font-size="28" text-anchor="middle" fill="#000" font-weight="normal" >800</text>
<line x1="1293.53" y1="483" x2="1293.53" y2="488.2" stroke="#000" stroke-width="2.3" />
<line x1="1353.03" y1="483" x2="1353.03" y2="492.9" stroke="#000" stroke-width="2.3" />
<text transform="translate(1353.03 526.4) scale(1.04 1.04)" font-size="28" text-anchor="middle" fill="#000" font-weight="normal" >1200</text>
<line x1="1412.53" y1="483" x2="1412.53" y2="488.2" stroke="#000" stroke-width="2.3" />
<line x1="1472.04" y1="483" x2="1472.04" y2="492.9" stroke="#000" stroke-width="2.3" />
<text transform="translate(1472.04 526.4) scale(1.04 1.04)" font-size="28" text-anchor="middle" fill="#000" font-weight="normal" >1600</text>
<line x1="1531.55" y1="483" x2="1531.55" y2="488.2" stroke="#000" stroke-width="2.3" />
<line x1="1591.05" y1="483" x2="1591.05" y2="492.9" stroke="#000" stroke-width="2.3" />
<text transform="translate(1591.05 526.4) scale(1.04 1.04)" font-size="28" text-anchor="middle" fill="#000" font-weight="normal" >2000</text>
<line x1="1591.05" y1="483" x2="1600.85" y2="483" stroke="#000" stroke-width="2.3" />
<text transform="translate(1613 493) scale(1.04 1.04)" font-size="28" text-anchor="start" fill="#000" font-weight="normal" >0</text>
<line x1="1591.05" y1="450.62" x2="1596.45" y2="450.62" stroke="#000" stroke-width="2.3" />
<line x1="1591.05" y1="418.24" x2="1600.85" y2="418.24" stroke="#000" stroke-width="2.3" />
<text transform="translate(1613 428.24) scale(1.04 1.04)" font-size="28" text-anchor="start" fill="#000" font-weight="normal" >100</text>
<line x1="1591.05" y1="385.86" x2="1596.45" y2="385.86" stroke="#000" stroke-width="2.3" />
<line x1="1591.05" y1="353.49" x2="1600.85" y2="353.49" stroke="#000" stroke-width="2.3" />
<text transform="translate(1613 363.49) scale(1.04 1.04)" font-size="28" text-anchor="start" fill="#000" font-weight="normal" >200</text>
<line x1="1591.05" y1="321.11" x2="1596.45" y2="321.11" stroke="#000" stroke-width="2.3" />
<line x1="1591.05" y1="288.73" x2="1600.85" y2="288.73" stroke="#000" stroke-width="2.3" />
<text transform="translate(1613 298.73) scale(1.04 1.04)" font-size="28" text-anchor="start" fill="#000" font-weight="normal" >300</text>
<line x1="1591.05" y1="256.35" x2="1596.45" y2="256.35" stroke="#000" stroke-width="2.3" />
<line x1="1591.05" y1="223.97" x2="1600.85" y2="223.97" stroke="#000" stroke-width="2.3" />
<text transform="translate(1613 233.97) scale(1.04 1.04)" font-size="28" text-anchor="start" fill="#000" font-weight="normal" >400</text>
<line x1="1591.05" y1="191.59" x2="1596.45" y2="191.59" stroke="#000" stroke-width="2.3" />
<line x1="1591.05" y1="159.21" x2="1600.85" y2="159.21" stroke="#000" stroke-width="2.3" />
<text transform="translate(1613 169.21) scale(1.04 1.04)" font-size="28" text-anchor="start" fill="#000" font-weight="normal" >500</text>
<line x1="1591.05" y1="126.84" x2="1596.45" y2="126.84" stroke="#000" stroke-width="2.3" />
<line x1="1591.05" y1="94.46" x2="1600.85" y2="94.46" stroke="#000" stroke-width="2.3" />
<text transform="translate(1613 104.46) scale(1.04 1.04)" font-size="28" text-anchor="start" fill="#000" font-weight="normal" >600</text>
<line x1="1591.05" y1="62.08" x2="1596.45" y2="62.08" stroke="#000" stroke-width="2.3" />
<line x1="1591.05" y1="29.7" x2="1600.85" y2="29.7" stroke="#000" stroke-width="2.3" />
<text transform="translate(1613 39.7) scale(1.04 1.04)" font-size="28" text-anchor="start" fill="#000" font-weight="normal" >700</text>
<text transform="translate(908 255.3) rotate(-90) scale(1.04 1.04)" font-size="28" text-anchor="middle" fill="#000">Voltage <tspan dx="5.2">(V)</tspan></text>
<text transform="translate(1293 575) scale(1.04 1.04)" font-size="28.3" text-anchor="middle" fill="#000">Current density/mA cm<tspan font-size="19" dy="-13">−2</tspan></text>
<text transform="translate(1708.8 255) rotate(-90) scale(1.04 1.04)" font-size="28.3" text-anchor="middle" fill="#000">Power density/mW cm<tspan font-size="19" dy="-13">−2</tspan></text>
<line x1="1429" y1="55.3" x2="1451.5" y2="55.3" stroke="#000" stroke-width="2.4" />
<line x1="1473" y1="55.3" x2="1495.6" y2="55.3" stroke="#000" stroke-width="2.4" />
<rect x="1457.9" y="51.5" width="7.6" height="7.6" fill="#000" stroke="#000" stroke-width="0.6"/>
<text transform="translate(1507.3 64.1) scale(1.04 1.04)" font-size="23.4" text-anchor="start" fill="#000" font-weight="normal" >500</text>
<text transform="translate(1552.5 64.1) scale(1.04 1.04)" font-size="23.4" text-anchor="start" fill="#000" font-weight="normal" >°C</text>
<line x1="1429" y1="96" x2="1451.5" y2="96" stroke="#ff0000" stroke-width="2.4" />
<line x1="1473" y1="96" x2="1495.6" y2="96" stroke="#ff0000" stroke-width="2.4" />
<circle cx="1461.7" cy="96" r="4.3" fill="#ff0000" stroke="#ff0000" stroke-width="0.4"/>
<text transform="translate(1507.3 104.8) scale(1.04 1.04)" font-size="23.4" text-anchor="start" fill="#000" font-weight="normal" >450</text>
<text transform="translate(1552.5 104.8) scale(1.04 1.04)" font-size="23.4" text-anchor="start" fill="#000" font-weight="normal" >°C</text>
<line x1="1429" y1="137" x2="1451.5" y2="137" stroke="#0000ff" stroke-width="2.4" />
<line x1="1473" y1="137" x2="1495.6" y2="137" stroke="#0000ff" stroke-width="2.4" />
<polygon points="1461.7,131.36 1456.5,140.76 1466.9,140.76" fill="#0000ff" stroke="#0000ff" stroke-width="0.4"/>
<text transform="translate(1507.3 145.8) scale(1.04 1.04)" font-size="23.4" text-anchor="start" fill="#000" font-weight="normal" >400</text>
<text transform="translate(1552.5 145.8) scale(1.04 1.04)" font-size="23.4" text-anchor="start" fill="#000" font-weight="normal" >°C</text>
<text transform="translate(876.5 30.7) scale(0.98 1.04)" font-size="42" text-anchor="start" fill="#000" font-weight="bold" >b</text>
</g>
<g id="panel-c">
<clipPath id="clipc"><rect x="116.6" y="675.4" width="609.6" height="450.95"/></clipPath>
<g clip-path="url(#clipc)">
<path d="M190.24,1080.38 C191.33,1079.51 194.28,1076.34 196.77,1075.16 C199.26,1073.98 202.37,1073.42 205.17,1073.29 C207.97,1073.17 210.77,1073.7 213.56,1074.41 C216.36,1075.13 219.01,1075.97 221.96,1077.58 C224.92,1079.2 228.49,1081.63 231.29,1084.11 C234.09,1086.6 236.89,1089.09 238.76,1092.51 C240.62,1095.93 241.09,1101.22 242.49,1104.64 C243.89,1108.06 245.44,1112.26 247.15,1113.04 C248.86,1113.82 250.73,1111.17 252.75,1109.31 C254.77,1107.44 256.33,1104.95 259.28,1101.84 C262.24,1098.73 267.02,1093.84 270.48,1090.65 C273.93,1087.45 274.91,1087.33 280,1082.68 C285.09,1078.03 293.99,1068.61 300.99,1062.74 C307.99,1056.86 314.98,1051.68 321.98,1047.41 C328.98,1043.15 335.98,1040 342.97,1037.13 C349.97,1034.26 356.97,1032.06 363.96,1030.2 C370.96,1028.35 377.61,1027.16 384.95,1026 C392.3,1024.85 404.2,1023.73 408.04,1023.27" fill="none" stroke="#000" stroke-width="2.2" stroke-linejoin="round" stroke-linecap="round" />
<rect x="175.3" y="1085.04" width="8.6" height="8.6" fill="none" stroke="#222" stroke-width="1.2"/>
<rect x="187.25" y="1071.42" width="8.6" height="8.6" fill="none" stroke="#222" stroke-width="1.2"/>
<rect x="200.87" y="1065.82" width="8.6" height="8.6" fill="none" stroke="#222" stroke-width="1.2"/>
<rect x="210.2" y="1068.62" width="8.6" height="8.6" fill="none" stroke="#222" stroke-width="1.2"/>
<rect x="219.53" y="1073.28" width="8.6" height="8.6" fill="none" stroke="#222" stroke-width="1.2"/>
<rect x="225.13" y="1078.88" width="8.6" height="8.6" fill="none" stroke="#222" stroke-width="1.2"/>
<rect x="229.79" y="1082.61" width="8.6" height="8.6" fill="none" stroke="#222" stroke-width="1.2"/>
<rect x="234.46" y="1086.35" width="8.6" height="8.6" fill="none" stroke="#222" stroke-width="1.2"/>
<rect x="236.32" y="1095.68" width="8.6" height="8.6" fill="none" stroke="#222" stroke-width="1.2"/>
<rect x="237.81" y="1101.27" width="8.6" height="8.6" fill="none" stroke="#222" stroke-width="1.2"/>
<rect x="239.31" y="1105.01" width="8.6" height="8.6" fill="none" stroke="#222" stroke-width="1.2"/>
<rect x="241.17" y="1107.43" width="8.6" height="8.6" fill="none" stroke="#222" stroke-width="1.2"/>
<rect x="243.41" y="1108.74" width="8.6" height="8.6" fill="none" stroke="#222" stroke-width="1.2"/>
<rect x="246.02" y="1108.55" width="8.6" height="8.6" fill="none" stroke="#222" stroke-width="1.2"/>
<rect x="248.64" y="1106.31" width="8.6" height="8.6" fill="none" stroke="#222" stroke-width="1.2"/>
<rect x="251.25" y="1102.21" width="8.6" height="8.6" fill="none" stroke="#222" stroke-width="1.2"/>
<rect x="253.49" y="1098.1" width="8.6" height="8.6" fill="none" stroke="#222" stroke-width="1.2"/>
<rect x="255.91" y="1093.81" width="8.6" height="8.6" fill="none" stroke="#222" stroke-width="1.2"/>
<rect x="260.58" y="1089.14" width="8.6" height="8.6" fill="none" stroke="#222" stroke-width="1.2"/>
<rect x="266.18" y="1083.55" width="8.6" height="8.6" fill="none" stroke="#222" stroke-width="1.2"/>
<rect x="271.78" y="1077.95" width="8.6" height="8.6" fill="none" stroke="#222" stroke-width="1.2"/>
<rect x="275.7" y="1075.23" width="8.6" height="8.6" fill="none" stroke="#222" stroke-width="1.2"/>
<rect x="278.85" y="1072.08" width="8.6" height="8.6" fill="none" stroke="#222" stroke-width="1.2"/>
<rect x="285.15" y="1066.83" width="8.6" height="8.6" fill="none" stroke="#222" stroke-width="1.2"/>
<rect x="291.44" y="1061.59" width="8.6" height="8.6" fill="none" stroke="#222" stroke-width="1.2"/>
<rect x="297.74" y="1054.24" width="8.6" height="8.6" fill="none" stroke="#222" stroke-width="1.2"/>
<rect x="305.09" y="1053.19" width="8.6" height="8.6" fill="none" stroke="#222" stroke-width="1.2"/>
<rect x="311.38" y="1050.04" width="8.6" height="8.6" fill="none" stroke="#222" stroke-width="1.2"/>
<rect x="317.68" y="1046.89" width="8.6" height="8.6" fill="none" stroke="#222" stroke-width="1.2"/>
<rect x="325.03" y="1041.64" width="8.6" height="8.6" fill="none" stroke="#222" stroke-width="1.2"/>
<rect x="334.05" y="1037.03" width="8.6" height="8.6" fill="none" stroke="#222" stroke-width="1.2"/>
<rect x="346.65" y="1036.4" width="8.6" height="8.6" fill="none" stroke="#222" stroke-width="1.2"/>
<rect x="352.95" y="1028.63" width="8.6" height="8.6" fill="none" stroke="#222" stroke-width="1.2"/>
<rect x="365.96" y="1025.27" width="8.6" height="8.6" fill="none" stroke="#222" stroke-width="1.2"/>
<rect x="372.26" y="1024.85" width="8.6" height="8.6" fill="none" stroke="#222" stroke-width="1.2"/>
<rect x="398.5" y="1020.02" width="8.6" height="8.6" fill="none" stroke="#222" stroke-width="1.2"/>
<rect x="406.89" y="1016.88" width="8.6" height="8.6" fill="none" stroke="#222" stroke-width="1.2"/>
<rect x="240.45" y="1104.25" width="7.5" height="7.5" fill="none" stroke="#000" stroke-width="1.6"/>
<rect x="241.1" y="1105.45" width="7.5" height="7.5" fill="none" stroke="#000" stroke-width="1.6"/>
<rect x="241.76" y="1106.57" width="7.5" height="7.5" fill="none" stroke="#000" stroke-width="1.6"/>
<rect x="242.41" y="1107.57" width="7.5" height="7.5" fill="none" stroke="#000" stroke-width="1.6"/>
<rect x="243.07" y="1108.36" width="7.5" height="7.5" fill="none" stroke="#000" stroke-width="1.6"/>
<rect x="243.72" y="1108.93" width="7.5" height="7.5" fill="none" stroke="#000" stroke-width="1.6"/>
<rect x="244.37" y="1109.21" width="7.5" height="7.5" fill="none" stroke="#000" stroke-width="1.6"/>
<rect x="245.03" y="1109.21" width="7.5" height="7.5" fill="none" stroke="#000" stroke-width="1.6"/>
<rect x="245.68" y="1108.93" width="7.5" height="7.5" fill="none" stroke="#000" stroke-width="1.6"/>
<rect x="246.33" y="1108.36" width="7.5" height="7.5" fill="none" stroke="#000" stroke-width="1.6"/>
<rect x="246.99" y="1107.57" width="7.5" height="7.5" fill="none" stroke="#000" stroke-width="1.6"/>
<rect x="247.64" y="1106.57" width="7.5" height="7.5" fill="none" stroke="#000" stroke-width="1.6"/>
<rect x="248.3" y="1105.45" width="7.5" height="7.5" fill="none" stroke="#000" stroke-width="1.6"/>
<rect x="248.95" y="1104.25" width="7.5" height="7.5" fill="none" stroke="#000" stroke-width="1.6"/>
<ellipse cx="247.5" cy="1111.5" rx="6" ry="4.6" fill="#000"/>
<polygon points="147.99,1126.74 158.39,1121.04 158.39,1132.44" fill="none" stroke="#0c0cff" stroke-width="0.9" stroke-linejoin="miter"/>
<polygon points="152.19,1118.47 162.59,1112.77 162.59,1124.17" fill="none" stroke="#0c0cff" stroke-width="0.9" stroke-linejoin="miter"/>
<polygon points="153.63,1117.48 164.03,1111.78 164.03,1123.18" fill="none" stroke="#0c0cff" stroke-width="0.9" stroke-linejoin="miter"/>
<polygon points="155.06,1116.49 165.46,1110.79 165.46,1122.19" fill="none" stroke="#0c0cff" stroke-width="0.9" stroke-linejoin="miter"/>
<polygon points="156.49,1115.49 166.89,1109.79 166.89,1121.19" fill="none" stroke="#0c0cff" stroke-width="0.9" stroke-linejoin="miter"/>
<polygon points="158.31,1115.44 168.71,1109.74 168.71,1121.14" fill="none" stroke="#0c0cff" stroke-width="0.9" stroke-linejoin="miter"/>
<polygon points="160.14,1115.38 170.54,1109.68 170.54,1121.08" fill="none" stroke="#0c0cff" stroke-width="0.9" stroke-linejoin="miter"/>
<polygon points="161.15,1115.8 171.55,1110.1 171.55,1121.5" fill="none" stroke="#0c0cff" stroke-width="0.9" stroke-linejoin="miter"/>
<polygon points="162.15,1116.22 172.55,1110.52 172.55,1121.92" fill="none" stroke="#0c0cff" stroke-width="0.9" stroke-linejoin="miter"/>
<polygon points="163.52,1117.18 173.92,1111.48 173.92,1122.88" fill="none" stroke="#0c0cff" stroke-width="0.9" stroke-linejoin="miter"/>
<polygon points="164.53,1118.19 174.93,1112.49 174.93,1123.89" fill="none" stroke="#0c0cff" stroke-width="0.9" stroke-linejoin="miter"/>
<polygon points="165.44,1119.21 175.84,1113.51 175.84,1124.91" fill="none" stroke="#0c0cff" stroke-width="0.9" stroke-linejoin="miter"/>
<polygon points="166.17,1120.16 176.57,1114.46 176.57,1125.86" fill="none" stroke="#0c0cff" stroke-width="0.9" stroke-linejoin="miter"/>
<polygon points="166.99,1120.89 177.39,1115.19 177.39,1126.59" fill="none" stroke="#0c0cff" stroke-width="0.9" stroke-linejoin="miter"/>
<polygon points="167.91,1121.57 178.31,1115.87 178.31,1127.27" fill="none" stroke="#0c0cff" stroke-width="0.9" stroke-linejoin="miter"/>
<polygon points="168.82,1121.96 179.22,1116.26 179.22,1127.66" fill="none" stroke="#0c0cff" stroke-width="0.9" stroke-linejoin="miter"/>
<polygon points="169.73,1122.13 180.13,1116.43 180.13,1127.83" fill="none" stroke="#0c0cff" stroke-width="0.9" stroke-linejoin="miter"/>
<polygon points="170.65,1122.13 181.05,1116.43 181.05,1127.83" fill="none" stroke="#0c0cff" stroke-width="0.9" stroke-linejoin="miter"/>
<polygon points="171.56,1121.85 181.96,1116.15 181.96,1127.55" fill="none" stroke="#0c0cff" stroke-width="0.9" stroke-linejoin="miter"/>
<polygon points="172.48,1121.29 182.88,1115.59 182.88,1126.99" fill="none" stroke="#0c0cff" stroke-width="0.9" stroke-linejoin="miter"/>
<polygon points="173.39,1120.72 183.79,1115.02 183.79,1126.42" fill="none" stroke="#0c0cff" stroke-width="0.9" stroke-linejoin="miter"/>
<polygon points="174.3,1120.16 184.7,1114.46 184.7,1125.86" fill="none" stroke="#0c0cff" stroke-width="0.9" stroke-linejoin="miter"/>
<polygon points="175.22,1119.04 185.62,1113.34 185.62,1124.74" fill="none" stroke="#0c0cff" stroke-width="0.9" stroke-linejoin="miter"/>
<polygon points="175.67,1117.63 186.07,1111.93 186.07,1123.33" fill="none" stroke="#0c0cff" stroke-width="0.9" stroke-linejoin="miter"/>
<polygon points="176.59,1117.52 186.99,1111.82 186.99,1123.22" fill="none" stroke="#0c0cff" stroke-width="0.9" stroke-linejoin="miter"/>
<polygon points="177.5,1117.18 187.9,1111.48 187.9,1122.88" fill="none" stroke="#0c0cff" stroke-width="0.9" stroke-linejoin="miter"/>
<polygon points="178.6,1116.79 189,1111.09 189,1122.49" fill="none" stroke="#0c0cff" stroke-width="0.9" stroke-linejoin="miter"/>
<polygon points="179.6,1115.94 190,1110.24 190,1121.64" fill="none" stroke="#0c0cff" stroke-width="0.9" stroke-linejoin="miter"/>
<polygon points="180.7,1115.1 191.1,1109.4 191.1,1120.8" fill="none" stroke="#0c0cff" stroke-width="0.9" stroke-linejoin="miter"/>
<polygon points="181.89,1114.26 192.29,1108.56 192.29,1119.96" fill="none" stroke="#0c0cff" stroke-width="0.9" stroke-linejoin="miter"/>
<polygon points="182.98,1113.58 193.38,1107.88 193.38,1119.28" fill="none" stroke="#0c0cff" stroke-width="0.9" stroke-linejoin="miter"/>
<polygon points="184.17,1112.85 194.57,1107.15 194.57,1118.55" fill="none" stroke="#0c0cff" stroke-width="0.9" stroke-linejoin="miter"/>
<polygon points="185.54,1112.12 195.94,1106.42 195.94,1117.82" fill="none" stroke="#0c0cff" stroke-width="0.9" stroke-linejoin="miter"/>
<polygon points="186.82,1111.44 197.22,1105.74 197.22,1117.14" fill="none" stroke="#0c0cff" stroke-width="0.9" stroke-linejoin="miter"/>
<polygon points="187.73,1110.6 198.13,1104.9 198.13,1116.3" fill="none" stroke="#0c0cff" stroke-width="0.9" stroke-linejoin="miter"/>
<polygon points="188.92,1110.21 199.32,1104.51 199.32,1115.91" fill="none" stroke="#0c0cff" stroke-width="0.9" stroke-linejoin="miter"/>
<polygon points="190.56,1109.76 200.96,1104.06 200.96,1115.46" fill="none" stroke="#0c0cff" stroke-width="0.9" stroke-linejoin="miter"/>
<polygon points="192.57,1109.08 202.97,1103.38 202.97,1114.78" fill="none" stroke="#0c0cff" stroke-width="0.9" stroke-linejoin="miter"/>
<polygon points="194.4,1107.67 204.8,1101.97 204.8,1113.37" fill="none" stroke="#0c0cff" stroke-width="0.9" stroke-linejoin="miter"/>
<polygon points="196.23,1107.65 206.63,1101.95 206.63,1113.35" fill="none" stroke="#0c0cff" stroke-width="0.9" stroke-linejoin="miter"/>
<polygon points="198.06,1107.62 208.46,1101.92 208.46,1113.32" fill="none" stroke="#0c0cff" stroke-width="0.9" stroke-linejoin="miter"/>
<polygon points="199.43,1106.86 209.83,1101.16 209.83,1112.56" fill="none" stroke="#0c0cff" stroke-width="0.9" stroke-linejoin="miter"/>
<polygon points="200.8,1106.1 211.2,1100.4 211.2,1111.8" fill="none" stroke="#0c0cff" stroke-width="0.9" stroke-linejoin="miter"/>
<polygon points="202.62,1105.82 213.02,1100.12 213.02,1111.52" fill="none" stroke="#0c0cff" stroke-width="0.9" stroke-linejoin="miter"/>
<polygon points="204.45,1105.54 214.85,1099.84 214.85,1111.24" fill="none" stroke="#0c0cff" stroke-width="0.9" stroke-linejoin="miter"/>
<polygon points="205.37,1104.41 215.77,1098.71 215.77,1110.11" fill="none" stroke="#0c0cff" stroke-width="0.9" stroke-linejoin="miter"/>
<polygon points="206.28,1103.68 216.68,1097.98 216.68,1109.38" fill="none" stroke="#0c0cff" stroke-width="0.9" stroke-linejoin="miter"/>
<polygon points="209.23,1103.61 219.63,1097.91 219.63,1109.31" fill="none" stroke="#0c0cff" stroke-width="0.9" stroke-linejoin="miter"/>
<polygon points="212.19,1103.53 222.59,1097.83 222.59,1109.23" fill="none" stroke="#0c0cff" stroke-width="0.9" stroke-linejoin="miter"/>
<polygon points="215.14,1103.46 225.54,1097.76 225.54,1109.16" fill="none" stroke="#0c0cff" stroke-width="0.9" stroke-linejoin="miter"/>
<polygon points="219.07,1102.72 229.47,1097.02 229.47,1108.42" fill="none" stroke="#0c0cff" stroke-width="0.9" stroke-linejoin="miter"/>
<polygon points="219.34,1102.56 229.74,1096.86 229.74,1108.26" fill="none" stroke="#0c0cff" stroke-width="0.9" stroke-linejoin="miter"/>
<polygon points="221.63,1101.43 232.03,1095.73 232.03,1107.13" fill="none" stroke="#0c0cff" stroke-width="0.9" stroke-linejoin="miter"/>
<polygon points="223.91,1100.31 234.31,1094.61 234.31,1106.01" fill="none" stroke="#0c0cff" stroke-width="0.9" stroke-linejoin="miter"/>
<polygon points="227.75,1100.76 238.15,1095.06 238.15,1106.46" fill="none" stroke="#0c0cff" stroke-width="0.9" stroke-linejoin="miter"/>
<path d="M238.76,1094.38 C239.69,1095.31 242.18,1097.95 244.35,1099.98 C246.53,1102 249.33,1104.73 251.82,1106.51 C254.31,1108.28 257.1,1109.99 259.28,1110.61 C261.46,1111.23 263.01,1110.92 264.88,1110.24 C266.75,1109.55 268.3,1108.44 270.48,1106.51 C272.65,1104.58 276.35,1100.72 277.94,1098.67 C279.53,1096.62 276.16,1100.21 280,1094.22 C283.84,1088.23 293.99,1072.18 300.99,1062.74 C307.99,1053.29 314.98,1045.59 321.98,1037.55 C328.98,1029.5 335.98,1021.46 342.97,1014.46 C349.97,1007.46 356.97,1001.16 363.96,995.57 C370.96,989.97 377.96,985.6 384.95,980.87 C391.95,976.15 398.95,971.08 405.94,967.23 C412.94,963.38 419.94,960.76 426.94,957.78 C433.93,954.81 440.93,951.84 447.93,949.39 C454.92,946.94 461.92,944.84 468.92,943.09 C475.91,941.34 482.91,940.05 489.91,938.89 C496.9,937.74 503.9,936.79 510.9,936.16 C517.9,935.53 524.89,935.08 531.89,935.11 C538.89,935.15 545.88,935.57 552.88,936.37 C559.88,937.18 566.87,938.47 573.87,939.94 C580.87,941.41 589.26,943.79 594.86,945.19 C600.46,946.59 605.36,947.81 607.46,948.34" fill="none" stroke="#ff0000" stroke-width="2.2" stroke-linejoin="round" stroke-linecap="round" />
<circle cx="212.26" cy="1122.74" r="4.6" fill="none" stroke="#ff2020" stroke-width="1.2"/>
<circle cx="219.54" cy="1106.51" r="4.6" fill="none" stroke="#ff2020" stroke-width="1.2"/>
<circle cx="229.43" cy="1096.24" r="4.6" fill="none" stroke="#ff2020" stroke-width="1.2"/>
<circle cx="236.89" cy="1094.38" r="4.6" fill="none" stroke="#ff2020" stroke-width="1.2"/>
<circle cx="240.62" cy="1096.24" r="4.6" fill="none" stroke="#ff2020" stroke-width="1.2"/>
<circle cx="243.42" cy="1099.04" r="4.6" fill="none" stroke="#ff2020" stroke-width="1.2"/>
<circle cx="246.22" cy="1101.84" r="4.6" fill="none" stroke="#ff2020" stroke-width="1.2"/>
<circle cx="249.02" cy="1104.27" r="4.6" fill="none" stroke="#ff2020" stroke-width="1.2"/>
<circle cx="251.82" cy="1106.51" r="4.6" fill="none" stroke="#ff2020" stroke-width="1.2"/>
<circle cx="254.62" cy="1108.37" r="4.6" fill="none" stroke="#ff2020" stroke-width="1.2"/>
<circle cx="257.42" cy="1109.87" r="4.6" fill="none" stroke="#ff2020" stroke-width="1.2"/>
<circle cx="260.21" cy="1110.61" r="4.6" fill="none" stroke="#ff2020" stroke-width="1.2"/>
<circle cx="263.01" cy="1110.61" r="4.6" fill="none" stroke="#ff2020" stroke-width="1.2"/>
<circle cx="265.81" cy="1109.87" r="4.6" fill="none" stroke="#ff2020" stroke-width="1.2"/>
<circle cx="268.61" cy="1108.37" r="4.6" fill="none" stroke="#ff2020" stroke-width="1.2"/>
<circle cx="272.34" cy="1104.64" r="4.6" fill="none" stroke="#ff2020" stroke-width="1.2"/>
<circle cx="276.08" cy="1101.84" r="4.6" fill="none" stroke="#ff2020" stroke-width="1.2"/>
<circle cx="279.81" cy="1098.11" r="4.6" fill="none" stroke="#ff2020" stroke-width="1.2"/>
<circle cx="283.15" cy="1093.17" r="4.6" fill="none" stroke="#ff2020" stroke-width="1.2"/>
<circle cx="286.3" cy="1088.98" r="4.6" fill="none" stroke="#ff2020" stroke-width="1.2"/>
<circle cx="289.45" cy="1084.78" r="4.6" fill="none" stroke="#ff2020" stroke-width="1.2"/>
<circle cx="292.59" cy="1080.58" r="4.6" fill="none" stroke="#ff2020" stroke-width="1.2"/>
<circle cx="295.74" cy="1074.91" r="4.6" fill="none" stroke="#ff2020" stroke-width="1.2"/>
<circle cx="299.94" cy="1069.45" r="4.6" fill="none" stroke="#ff2020" stroke-width="1.2"/>
<circle cx="306.24" cy="1062.11" r="4.6" fill="none" stroke="#ff2020" stroke-width="1.2"/>
<circle cx="312.54" cy="1055.39" r="4.6" fill="none" stroke="#ff2020" stroke-width="1.2"/>
<circle cx="318.83" cy="1046.99" r="4.6" fill="none" stroke="#ff2020" stroke-width="1.2"/>
<circle cx="326.6" cy="1039.02" r="4.6" fill="none" stroke="#ff2020" stroke-width="1.2"/>
<circle cx="335.63" cy="1029.57" r="4.6" fill="none" stroke="#ff2020" stroke-width="1.2"/>
<circle cx="345.07" cy="1019.71" r="4.6" fill="none" stroke="#ff2020" stroke-width="1.2"/>
<circle cx="355.15" cy="1010.68" r="4.6" fill="none" stroke="#ff2020" stroke-width="1.2"/>
<circle cx="367.11" cy="1000.81" r="4.6" fill="none" stroke="#ff2020" stroke-width="1.2"/>
<circle cx="380.76" cy="991.79" r="4.6" fill="none" stroke="#ff2020" stroke-width="1.2"/>
<circle cx="395.03" cy="982.34" r="4.6" fill="none" stroke="#ff2020" stroke-width="1.2"/>
<circle cx="411.61" cy="973.53" r="4.6" fill="none" stroke="#ff2020" stroke-width="1.2"/>
<circle cx="428.61" cy="965.76" r="4.6" fill="none" stroke="#ff2020" stroke-width="1.2"/>
<circle cx="447.93" cy="959.25" r="4.6" fill="none" stroke="#ff2020" stroke-width="1.2"/>
<circle cx="467.45" cy="955.26" r="4.6" fill="none" stroke="#ff2020" stroke-width="1.2"/>
<circle cx="489.91" cy="951.07" r="4.6" fill="none" stroke="#ff2020" stroke-width="1.2"/>
<circle cx="510.9" cy="947.29" r="4.6" fill="none" stroke="#ff2020" stroke-width="1.2"/>
<circle cx="532.94" cy="950.02" r="4.6" fill="none" stroke="#ff2020" stroke-width="1.2"/>
<circle cx="559.18" cy="946.24" r="4.6" fill="none" stroke="#ff2020" stroke-width="1.2"/>
<circle cx="578.49" cy="953.17" r="4.6" fill="none" stroke="#ff2020" stroke-width="1.2"/>
<circle cx="608.09" cy="947.29" r="4.6" fill="none" stroke="#ff2020" stroke-width="1.2"/>
</g>
<rect x="116.6" y="675.4" width="609.6" height="450.95" fill="none" stroke="#000" stroke-width="2.4"/>
<line x1="106.2" y1="1126.35" x2="116.6" y2="1126.35" stroke="#000" stroke-width="2.3" />
<text transform="translate(94.5 1136.35) scale(1.04 1.04)" font-size="28" text-anchor="end" fill="#000" font-weight="normal" >0.0</text>
<line x1="111.2" y1="1032.2" x2="116.6" y2="1032.2" stroke="#000" stroke-width="2.3" />
<line x1="106.2" y1="938.05" x2="116.6" y2="938.05" stroke="#000" stroke-width="2.3" />
<text transform="translate(94.5 948.05) scale(1.04 1.04)" font-size="28" text-anchor="end" fill="#000" font-weight="normal" >0.5</text>
<line x1="111.2" y1="843.9" x2="116.6" y2="843.9" stroke="#000" stroke-width="2.3" />
<line x1="106.2" y1="749.75" x2="116.6" y2="749.75" stroke="#000" stroke-width="2.3" />
<text transform="translate(94.5 759.75) scale(1.04 1.04)" font-size="28" text-anchor="end" fill="#000" font-weight="normal" >1.0</text>
<line x1="116.6" y1="1126.35" x2="116.6" y2="1136.75" stroke="#000" stroke-width="2.3" />
<text transform="translate(115.9 1171) scale(1.04 1.04)" font-size="28" text-anchor="middle" fill="#000" font-weight="normal" >0.0</text>
<line x1="177.56" y1="1126.35" x2="177.56" y2="1131.75" stroke="#000" stroke-width="2.3" />
<line x1="238.52" y1="1126.35" x2="238.52" y2="1136.75" stroke="#000" stroke-width="2.3" />
<text transform="translate(237.82 1171) scale(1.04 1.04)" font-size="28" text-anchor="middle" fill="#000" font-weight="normal" >0.5</text>
<line x1="299.48" y1="1126.35" x2="299.48" y2="1131.75" stroke="#000" stroke-width="2.3" />
<line x1="360.44" y1="1126.35" x2="360.44" y2="1136.75" stroke="#000" stroke-width="2.3" />
<text transform="translate(359.74 1171) scale(1.04 1.04)" font-size="28" text-anchor="middle" fill="#000" font-weight="normal" >1.0</text>
<line x1="421.4" y1="1126.35" x2="421.4" y2="1131.75" stroke="#000" stroke-width="2.3" />
<line x1="482.36" y1="1126.35" x2="482.36" y2="1136.75" stroke="#000" stroke-width="2.3" />
<text transform="translate(481.66 1171) scale(1.04 1.04)" font-size="28" text-anchor="middle" fill="#000" font-weight="normal" >1.5</text>
<line x1="543.32" y1="1126.35" x2="543.32" y2="1131.75" stroke="#000" stroke-width="2.3" />
<line x1="604.28" y1="1126.35" x2="604.28" y2="1136.75" stroke="#000" stroke-width="2.3" />
<text transform="translate(603.58 1171) scale(1.04 1.04)" font-size="28" text-anchor="middle" fill="#000" font-weight="normal" >2.0</text>
<line x1="665.24" y1="1126.35" x2="665.24" y2="1131.75" stroke="#000" stroke-width="2.3" />
<line x1="726.2" y1="1126.35" x2="726.2" y2="1136.75" stroke="#000" stroke-width="2.3" />
<text transform="translate(725.5 1171) scale(1.04 1.04)" font-size="28" text-anchor="middle" fill="#000" font-weight="normal" >2.5</text>
<text transform="translate(421 1217.4) scale(1.04 1.04)" font-size="28" text-anchor="middle" fill="#000">Re Z (Ω cm<tspan font-size="19" dy="-12">2</tspan><tspan dy="12">)</tspan></text>
<text transform="translate(27.8 901) rotate(-90) scale(1.04 1.04)" font-size="28" text-anchor="middle" fill="#000">Im Z (Ω cm<tspan font-size="19" dy="-12">2</tspan><tspan dy="12">)</tspan></text>
<circle cx="531.7" cy="999.2" r="5.1" fill="none" stroke="#ff2020" stroke-width="1.4"/>
<rect x="527.3" y="1036.5" width="8.8" height="8.8" fill="none" stroke="#222" stroke-width="1.4"/>
<polygon points="524.3,1083 535.5,1076.6 535.5,1089.4" fill="none" stroke="#1f1fff" stroke-width="1.3"/>
<text transform="translate(549.5 1008.2) scale(1.04 1.04)" font-size="28.4" text-anchor="start" fill="#000" font-weight="normal" >400</text>
<text transform="translate(603 1008.2) scale(1.04 1.04)" font-size="28.4" text-anchor="start" fill="#000" font-weight="normal" >°C</text>
<text transform="translate(549.5 1049.6) scale(1.04 1.04)" font-size="28.4" text-anchor="start" fill="#000" font-weight="normal" >450</text>
<text transform="translate(603 1049.6) scale(1.04 1.04)" font-size="28.4" text-anchor="start" fill="#000" font-weight="normal" >°C</text>
<text transform="translate(549.5 1091.5) scale(1.04 1.04)" font-size="28.4" text-anchor="start" fill="#000" font-weight="normal" >500</text>
<text transform="translate(603 1091.5) scale(1.04 1.04)" font-size="28.4" text-anchor="start" fill="#000" font-weight="normal" >°C</text>
<rect x="167.2" y="714.1" width="236.3" height="181.9" fill="#fff" stroke="#000" stroke-width="1.7"/>
<polygon points="191.92,872.84 198.12,869.54 198.12,876.14" fill="none" stroke="#1414ff" stroke-width="1.15" stroke-linejoin="miter"/>
<polygon points="200.93,844.03 207.13,840.73 207.13,847.33" fill="none" stroke="#1414ff" stroke-width="1.15" stroke-linejoin="miter"/>
<polygon points="210.14,833.65 216.34,830.35 216.34,836.95" fill="none" stroke="#1414ff" stroke-width="1.15" stroke-linejoin="miter"/>
<polygon points="217.98,833.25 224.18,829.95 224.18,836.55" fill="none" stroke="#1414ff" stroke-width="1.15" stroke-linejoin="miter"/>
<polygon points="222.29,836.19 228.49,832.89 228.49,839.49" fill="none" stroke="#1414ff" stroke-width="1.15" stroke-linejoin="miter"/>
<polygon points="225.23,839.53 231.43,836.23 231.43,842.83" fill="none" stroke="#1414ff" stroke-width="1.15" stroke-linejoin="miter"/>
<polygon points="227.39,843.05 233.59,839.75 233.59,846.35" fill="none" stroke="#1414ff" stroke-width="1.15" stroke-linejoin="miter"/>
<polygon points="229.34,846.58 235.54,843.28 235.54,849.88" fill="none" stroke="#1414ff" stroke-width="1.15" stroke-linejoin="miter"/>
<polygon points="230.91,849.91 237.11,846.61 237.11,853.21" fill="none" stroke="#1414ff" stroke-width="1.15" stroke-linejoin="miter"/>
<polygon points="232.68,852.46 238.88,849.16 238.88,855.76" fill="none" stroke="#1414ff" stroke-width="1.15" stroke-linejoin="miter"/>
<polygon points="234.64,854.81 240.84,851.51 240.84,858.11" fill="none" stroke="#1414ff" stroke-width="1.15" stroke-linejoin="miter"/>
<polygon points="236.6,856.18 242.8,852.88 242.8,859.48" fill="none" stroke="#1414ff" stroke-width="1.15" stroke-linejoin="miter"/>
<polygon points="238.56,856.77 244.76,853.47 244.76,860.07" fill="none" stroke="#1414ff" stroke-width="1.15" stroke-linejoin="miter"/>
<polygon points="240.51,856.77 246.71,853.47 246.71,860.07" fill="none" stroke="#1414ff" stroke-width="1.15" stroke-linejoin="miter"/>
<polygon points="242.47,855.79 248.67,852.49 248.67,859.09" fill="none" stroke="#1414ff" stroke-width="1.15" stroke-linejoin="miter"/>
<polygon points="244.43,853.83 250.63,850.53 250.63,857.13" fill="none" stroke="#1414ff" stroke-width="1.15" stroke-linejoin="miter"/>
<polygon points="246.39,851.87 252.59,848.57 252.59,855.17" fill="none" stroke="#1414ff" stroke-width="1.15" stroke-linejoin="miter"/>
<polygon points="248.35,849.91 254.55,846.61 254.55,853.21" fill="none" stroke="#1414ff" stroke-width="1.15" stroke-linejoin="miter"/>
<polygon points="250.31,845.99 256.51,842.69 256.51,849.29" fill="none" stroke="#1414ff" stroke-width="1.15" stroke-linejoin="miter"/>
<polygon points="251.29,841.09 257.49,837.79 257.49,844.39" fill="none" stroke="#1414ff" stroke-width="1.15" stroke-linejoin="miter"/>
<polygon points="253.25,840.7 259.45,837.4 259.45,844" fill="none" stroke="#1414ff" stroke-width="1.15" stroke-linejoin="miter"/>
<polygon points="255.21,839.53 261.41,836.23 261.41,842.83" fill="none" stroke="#1414ff" stroke-width="1.15" stroke-linejoin="miter"/>
<polygon points="257.56,838.15 263.76,834.85 263.76,841.45" fill="none" stroke="#1414ff" stroke-width="1.15" stroke-linejoin="miter"/>
<polygon points="259.72,835.21 265.92,831.91 265.92,838.51" fill="none" stroke="#1414ff" stroke-width="1.15" stroke-linejoin="miter"/>
<polygon points="262.07,832.28 268.27,828.98 268.27,835.58" fill="none" stroke="#1414ff" stroke-width="1.15" stroke-linejoin="miter"/>
<polygon points="264.62,829.34 270.82,826.04 270.82,832.64" fill="none" stroke="#1414ff" stroke-width="1.15" stroke-linejoin="miter"/>
<polygon points="266.97,826.98 273.17,823.68 273.17,830.28" fill="none" stroke="#1414ff" stroke-width="1.15" stroke-linejoin="miter"/>
<polygon points="269.52,824.44 275.72,821.14 275.72,827.74" fill="none" stroke="#1414ff" stroke-width="1.15" stroke-linejoin="miter"/>
<polygon points="272.46,821.89 278.66,818.59 278.66,825.19" fill="none" stroke="#1414ff" stroke-width="1.15" stroke-linejoin="miter"/>
<polygon points="275.2,819.54 281.4,816.24 281.4,822.84" fill="none" stroke="#1414ff" stroke-width="1.15" stroke-linejoin="miter"/>
<polygon points="277.16,816.6 283.36,813.3 283.36,819.9" fill="none" stroke="#1414ff" stroke-width="1.15" stroke-linejoin="miter"/>
<polygon points="279.71,815.23 285.91,811.93 285.91,818.53" fill="none" stroke="#1414ff" stroke-width="1.15" stroke-linejoin="miter"/>
<polygon points="283.23,813.66 289.43,810.36 289.43,816.96" fill="none" stroke="#1414ff" stroke-width="1.15" stroke-linejoin="miter"/>
<polygon points="287.55,811.31 293.75,808.01 293.75,814.61" fill="none" stroke="#1414ff" stroke-width="1.15" stroke-linejoin="miter"/>
<polygon points="291.47,806.41 297.67,803.11 297.67,809.71" fill="none" stroke="#1414ff" stroke-width="1.15" stroke-linejoin="miter"/>
<polygon points="299.3,806.21 305.5,802.91 305.5,809.51" fill="none" stroke="#1414ff" stroke-width="1.15" stroke-linejoin="miter"/>
<polygon points="305.18,800.92 311.38,797.62 311.38,804.22" fill="none" stroke="#1414ff" stroke-width="1.15" stroke-linejoin="miter"/>
<polygon points="313.02,798.96 319.22,795.66 319.22,802.26" fill="none" stroke="#1414ff" stroke-width="1.15" stroke-linejoin="miter"/>
<polygon points="314.98,795.04 321.18,791.74 321.18,798.34" fill="none" stroke="#1414ff" stroke-width="1.15" stroke-linejoin="miter"/>
<polygon points="316.94,792.49 323.14,789.19 323.14,795.79" fill="none" stroke="#1414ff" stroke-width="1.15" stroke-linejoin="miter"/>
<polygon points="335.95,791.71 342.15,788.41 342.15,795.01" fill="none" stroke="#1414ff" stroke-width="1.15" stroke-linejoin="miter"/>
<polygon points="344.38,789.16 350.58,785.86 350.58,792.46" fill="none" stroke="#1414ff" stroke-width="1.15" stroke-linejoin="miter"/>
<polygon points="344.96,788.58 351.16,785.28 351.16,791.88" fill="none" stroke="#1414ff" stroke-width="1.15" stroke-linejoin="miter"/>
<polygon points="354.76,780.74 360.96,777.44 360.96,784.04" fill="none" stroke="#1414ff" stroke-width="1.15" stroke-linejoin="miter"/>
<polygon points="362.99,782.3 369.19,779 369.19,785.6" fill="none" stroke="#1414ff" stroke-width="1.15" stroke-linejoin="miter"/>
<polygon points="188.2,744.09 194.4,740.79 194.4,747.39" fill="none" stroke="#4a6cf0" stroke-width="1.25" stroke-linejoin="miter"/>
<text transform="translate(217.4 748.6) scale(1.04 1.04)" font-size="11.6" text-anchor="start" fill="#000" font-weight="normal" >500</text>
<text transform="translate(240.8 748.6) scale(1.04 1.04)" font-size="11.6" text-anchor="start" fill="#000" font-weight="normal" >°C</text>
<line x1="167.2" y1="896" x2="167.2" y2="900.2" stroke="#000" stroke-width="1.4" />
<text transform="translate(167.8 913.6) scale(1.04 1.04)" font-size="11.4" text-anchor="middle" fill="#000" font-weight="normal" >0.1</text>
<line x1="193.35" y1="896" x2="193.35" y2="898.4" stroke="#000" stroke-width="1.4" />
<line x1="219.5" y1="896" x2="219.5" y2="900.2" stroke="#000" stroke-width="1.4" />
<text transform="translate(220.1 913.6) scale(1.04 1.04)" font-size="11.4" text-anchor="middle" fill="#000" font-weight="normal" >0.2</text>
<line x1="245.65" y1="896" x2="245.65" y2="898.4" stroke="#000" stroke-width="1.4" />
<line x1="271.8" y1="896" x2="271.8" y2="900.2" stroke="#000" stroke-width="1.4" />
<text transform="translate(272.4 913.6) scale(1.04 1.04)" font-size="11.4" text-anchor="middle" fill="#000" font-weight="normal" >0.3</text>
<line x1="297.95" y1="896" x2="297.95" y2="898.4" stroke="#000" stroke-width="1.4" />
<line x1="324.1" y1="896" x2="324.1" y2="900.2" stroke="#000" stroke-width="1.4" />
<text transform="translate(324.7 913.6) scale(1.04 1.04)" font-size="11.4" text-anchor="middle" fill="#000" font-weight="normal" >0.4</text>
<line x1="350.25" y1="896" x2="350.25" y2="898.4" stroke="#000" stroke-width="1.4" />
<line x1="376.4" y1="896" x2="376.4" y2="900.2" stroke="#000" stroke-width="1.4" />
<text transform="translate(377 913.6) scale(1.04 1.04)" font-size="11.4" text-anchor="middle" fill="#000" font-weight="normal" >0.5</text>
<line x1="402.55" y1="896" x2="402.55" y2="898.4" stroke="#000" stroke-width="1.4" />
<line x1="163" y1="871.5" x2="167.2" y2="871.5" stroke="#000" stroke-width="1.4" />
<text transform="translate(160.5 875.5) scale(1.04 1.04)" font-size="11.4" text-anchor="end" fill="#000" font-weight="normal" >0.00</text>
<line x1="164.8" y1="838.7" x2="167.2" y2="838.7" stroke="#000" stroke-width="1.4" />
<line x1="163" y1="805.9" x2="167.2" y2="805.9" stroke="#000" stroke-width="1.4" />
<text transform="translate(160.5 809.9) scale(1.04 1.04)" font-size="11.4" text-anchor="end" fill="#000" font-weight="normal" >0.05</text>
<line x1="164.8" y1="773.1" x2="167.2" y2="773.1" stroke="#000" stroke-width="1.4" />
<line x1="163" y1="740.3" x2="167.2" y2="740.3" stroke="#000" stroke-width="1.4" />
<text transform="translate(160.5 744.3) scale(1.04 1.04)" font-size="11.4" text-anchor="end" fill="#000" font-weight="normal" >0.10</text>
<text transform="translate(289.3 929.7) scale(1.04 1.04)" font-size="11.4" text-anchor="middle" fill="#000">Re Z (Ω cm<tspan font-size="7.5" dy="-4.5">2</tspan><tspan dy="4.5">)</tspan></text>
<text transform="translate(131.2 814.6) rotate(-90) scale(1.04 1.04)" font-size="11.4" text-anchor="middle" fill="#000">Im Z (Ω cm<tspan font-size="7.5" dy="-4.5">2</tspan><tspan dy="4.5">)</tspan></text>
<line x1="167.2" y1="1104.5" x2="233.2" y2="885" stroke="#1f1fff" stroke-width="1.1" />
<polygon points="236.6,876.8 228.8,888.2 235.8,890.4" fill="#1f1fff"/>
<polyline points="415.39,791.37 445.8,791.37 450.99,797.14 461.57,786.17 472.16,797.14 483.12,786.17 487.55,791.37 536.62,791.37 542.39,797.14 552.97,786.17 563.56,797.14 574.14,786.17 578.56,791.37 628.02,791.37 633.79,797.14 644.37,786.17 654.95,797.14 665.54,786.17 669.39,791.37 710.76,791.37" fill="none" stroke="#000" stroke-width="1.85" stroke-linejoin="round" stroke-linecap="round" stroke-linejoin="miter" stroke-linecap="butt"/>
<polyline points="522.19,791.37 522.19,824.08 552.97,824.08" fill="none" stroke="#000" stroke-width="1.85" stroke-linejoin="round" stroke-linecap="round" stroke-linejoin="miter" stroke-linecap="butt"/>
<polyline points="548.16,818.69 553.36,824.08 548.16,829.47" fill="none" stroke="#000" stroke-width="1.85" stroke-linejoin="round" stroke-linecap="round" stroke-linejoin="miter" stroke-linecap="butt"/>
<polyline points="558.36,818.69 563.56,824.08 558.36,829.47" fill="none" stroke="#000" stroke-width="1.85" stroke-linejoin="round" stroke-linecap="round" stroke-linejoin="miter" stroke-linecap="butt"/>
<polyline points="563.56,824.08 593.96,824.08 593.96,791.37" fill="none" stroke="#000" stroke-width="1.85" stroke-linejoin="round" stroke-linecap="round" stroke-linejoin="miter" stroke-linecap="butt"/>
<polyline points="613.2,791.37 613.2,824.08 644.37,824.08" fill="none" stroke="#000" stroke-width="1.85" stroke-linejoin="round" stroke-linecap="round" stroke-linejoin="miter" stroke-linecap="butt"/>
<polyline points="639.56,818.69 644.76,824.08 639.56,829.47" fill="none" stroke="#000" stroke-width="1.85" stroke-linejoin="round" stroke-linecap="round" stroke-linejoin="miter" stroke-linecap="butt"/>
<polyline points="649.76,818.69 654.95,824.08 649.76,829.47" fill="none" stroke="#000" stroke-width="1.85" stroke-linejoin="round" stroke-linecap="round" stroke-linejoin="miter" stroke-linecap="butt"/>
<polyline points="654.95,824.08 685.16,824.08 685.16,791.37" fill="none" stroke="#000" stroke-width="1.85" stroke-linejoin="round" stroke-linecap="round" stroke-linejoin="miter" stroke-linecap="butt"/>
<ellipse cx="522.19" cy="791.37" rx="4.8" ry="5.8" fill="#000"/>
<ellipse cx="613.2" cy="791.37" rx="4.8" ry="5.8" fill="#000"/>
<text transform="translate(465.81 781.75) scale(1.04 1.04)" font-size="12" text-anchor="middle" fill="#000" font-weight="normal" >Ro</text>
<text transform="translate(557.21 781.75) scale(1.04 1.04)" font-size="12" text-anchor="middle" fill="#000" font-weight="normal" >R1</text>
<text transform="translate(648.8 781.75) scale(1.04 1.04)" font-size="12" text-anchor="middle" fill="#000" font-weight="normal" >R2</text>
<text transform="translate(556.44 814.46) scale(1.04 1.04)" font-size="12" text-anchor="middle" fill="#000" font-weight="normal" >Q1</text>
<text transform="translate(648.22 814.46) scale(1.04 1.04)" font-size="12" text-anchor="middle" fill="#000" font-weight="normal" >Q2</text>
<text transform="translate(0 648.6) scale(0.98 1.04)" font-size="42" text-anchor="start" fill="#000" font-weight="bold" >c</text>
</g>
<g id="panel-d">
<path d="M1030.8,784.6 C1040.3,786.93 1069.87,794.37 1087.8,798.6 C1105.73,802.83 1121.53,806.42 1138.4,810 C1155.27,813.58 1172.12,816.82 1189,820.1 C1205.88,823.38 1225.35,827.22 1239.7,829.7 C1254.05,832.18 1260.17,833.03 1275.1,835 C1290.03,836.97 1309.52,839.35 1329.3,841.5 C1349.08,843.65 1371.65,846.07 1393.8,847.9 C1415.95,849.73 1442.37,851.32 1462.2,852.5 C1482.03,853.68 1496.98,854.2 1512.8,855 C1528.62,855.8 1549.72,856.92 1557.1,857.3" fill="none" stroke="#ff0000" stroke-width="2.5" stroke-linejoin="round" stroke-linecap="round" />
<polyline points="1030.8,809.4 1275.1,858 1557.1,899" fill="none" stroke="#0000ff" stroke-width="2.5" stroke-linejoin="round" stroke-linecap="round" />
<circle cx="1030.8" cy="784.6" r="4.8" fill="#ff0000" stroke="#ff0000" stroke-width="0.4"/>
<circle cx="1275.1" cy="841.1" r="4.8" fill="#ff0000" stroke="#ff0000" stroke-width="0.4"/>
<circle cx="1557.1" cy="857.3" r="4.8" fill="#ff0000" stroke="#ff0000" stroke-width="0.4"/>
<rect x="1026.5" y="805.1" width="8.6" height="8.6" fill="#0000ff" stroke="#0000ff" stroke-width="0.4"/>
<rect x="1270.8" y="853.7" width="8.6" height="8.6" fill="#0000ff" stroke="#0000ff" stroke-width="0.4"/>
<rect x="1552.8" y="894.7" width="8.6" height="8.6" fill="#0000ff" stroke="#0000ff" stroke-width="0.4"/>
<rect x="994.6" y="670.1" width="602" height="456.2" fill="none" stroke="#000" stroke-width="2.4"/>
<line x1="985.2" y1="670.1" x2="994.6" y2="670.1" stroke="#000" stroke-width="2.4" />
<line x1="989.8" y1="808.64" x2="994.6" y2="808.64" stroke="#000" stroke-width="2.2" />
<line x1="989.8" y1="773.73" x2="994.6" y2="773.73" stroke="#000" stroke-width="2.2" />
<line x1="989.8" y1="748.97" x2="994.6" y2="748.97" stroke="#000" stroke-width="2.2" />
<line x1="989.8" y1="729.76" x2="994.6" y2="729.76" stroke="#000" stroke-width="2.2" />
<line x1="989.8" y1="714.07" x2="994.6" y2="714.07" stroke="#000" stroke-width="2.2" />
<line x1="989.8" y1="700.8" x2="994.6" y2="700.8" stroke="#000" stroke-width="2.2" />
<line x1="989.8" y1="689.31" x2="994.6" y2="689.31" stroke="#000" stroke-width="2.2" />
<line x1="989.8" y1="679.17" x2="994.6" y2="679.17" stroke="#000" stroke-width="2.2" />
<line x1="985.2" y1="868.3" x2="994.6" y2="868.3" stroke="#000" stroke-width="2.4" />
<line x1="989.8" y1="1006.84" x2="994.6" y2="1006.84" stroke="#000" stroke-width="2.2" />
<line x1="989.8" y1="971.93" x2="994.6" y2="971.93" stroke="#000" stroke-width="2.2" />
<line x1="989.8" y1="947.17" x2="994.6" y2="947.17" stroke="#000" stroke-width="2.2" />
<line x1="989.8" y1="927.96" x2="994.6" y2="927.96" stroke="#000" stroke-width="2.2" />
<line x1="989.8" y1="912.27" x2="994.6" y2="912.27" stroke="#000" stroke-width="2.2" />
<line x1="989.8" y1="899" x2="994.6" y2="899" stroke="#000" stroke-width="2.2" />
<line x1="989.8" y1="887.51" x2="994.6" y2="887.51" stroke="#000" stroke-width="2.2" />
<line x1="989.8" y1="877.37" x2="994.6" y2="877.37" stroke="#000" stroke-width="2.2" />
<line x1="985.2" y1="1066.5" x2="994.6" y2="1066.5" stroke="#000" stroke-width="2.4" />
<line x1="989.8" y1="1126.16" x2="994.6" y2="1126.16" stroke="#000" stroke-width="2.2" />
<line x1="989.8" y1="1110.47" x2="994.6" y2="1110.47" stroke="#000" stroke-width="2.2" />
<line x1="989.8" y1="1097.2" x2="994.6" y2="1097.2" stroke="#000" stroke-width="2.2" />
<line x1="989.8" y1="1085.71" x2="994.6" y2="1085.71" stroke="#000" stroke-width="2.2" />
<line x1="989.8" y1="1075.57" x2="994.6" y2="1075.57" stroke="#000" stroke-width="2.2" />
<line x1="989.8" y1="1126.16" x2="994.6" y2="1126.16" stroke="#000" stroke-width="2.2" />
<line x1="989.8" y1="1110.47" x2="994.6" y2="1110.47" stroke="#000" stroke-width="2.2" />
<line x1="989.8" y1="1097.2" x2="994.6" y2="1097.2" stroke="#000" stroke-width="2.2" />
<line x1="989.8" y1="1085.71" x2="994.6" y2="1085.71" stroke="#000" stroke-width="2.2" />
<line x1="989.8" y1="1075.57" x2="994.6" y2="1075.57" stroke="#000" stroke-width="2.2" />
<text transform="translate(976 680.1) scale(1.04 1.04)" font-size="28" text-anchor="end" fill="#000" font-weight="normal" >1</text>
<text transform="translate(976 878.3) scale(1.04 1.04)" font-size="28" text-anchor="end" fill="#000" font-weight="normal" >0.1</text>
<text transform="translate(976 1076.5) scale(1.04 1.04)" font-size="28" text-anchor="end" fill="#000" font-weight="normal" >0.01</text>
<line x1="1049.8" y1="1126.3" x2="1049.8" y2="1135.9" stroke="#000" stroke-width="2.4" />
<text transform="translate(1050.1 1169) scale(1.04 1.04)" font-size="28" text-anchor="middle" fill="#000" font-weight="normal" >1.30</text>
<line x1="1118.12" y1="1126.3" x2="1118.12" y2="1131.3" stroke="#000" stroke-width="2.4" />
<line x1="1186.45" y1="1126.3" x2="1186.45" y2="1135.9" stroke="#000" stroke-width="2.4" />
<text transform="translate(1186.75 1169) scale(1.04 1.04)" font-size="28" text-anchor="middle" fill="#000" font-weight="normal" >1.35</text>
<line x1="1254.77" y1="1126.3" x2="1254.77" y2="1131.3" stroke="#000" stroke-width="2.4" />
<line x1="1323.1" y1="1126.3" x2="1323.1" y2="1135.9" stroke="#000" stroke-width="2.4" />
<text transform="translate(1323.4 1169) scale(1.04 1.04)" font-size="28" text-anchor="middle" fill="#000" font-weight="normal" >1.40</text>
<line x1="1391.42" y1="1126.3" x2="1391.42" y2="1131.3" stroke="#000" stroke-width="2.4" />
<line x1="1459.75" y1="1126.3" x2="1459.75" y2="1135.9" stroke="#000" stroke-width="2.4" />
<text transform="translate(1460.05 1169) scale(1.04 1.04)" font-size="28" text-anchor="middle" fill="#000" font-weight="normal" >1.45</text>
<line x1="1528.07" y1="1126.3" x2="1528.07" y2="1131.3" stroke="#000" stroke-width="2.4" />
<line x1="1596.4" y1="1126.3" x2="1596.4" y2="1135.9" stroke="#000" stroke-width="2.4" />
<text transform="translate(1596.7 1169) scale(1.04 1.04)" font-size="28" text-anchor="middle" fill="#000" font-weight="normal" >1.50</text>
<line x1="1031.79" y1="670.1" x2="1031.79" y2="679.5" stroke="#000" stroke-width="2.4" />
<line x1="1276.2" y1="670.1" x2="1276.2" y2="679.5" stroke="#000" stroke-width="2.4" />
<line x1="1556.92" y1="670.1" x2="1556.92" y2="679.5" stroke="#000" stroke-width="2.4" />
<line x1="1149.91" y1="670.1" x2="1149.91" y2="675.1" stroke="#000" stroke-width="2.4" />
<line x1="1411.53" y1="670.1" x2="1411.53" y2="675.1" stroke="#000" stroke-width="2.4" />
<text transform="translate(1031.5 656.1) scale(1.04 1.04)" font-size="27" text-anchor="middle" fill="#000" font-weight="normal" >500</text>
<text transform="translate(1275.5 656.1) scale(1.04 1.04)" font-size="27" text-anchor="middle" fill="#000" font-weight="normal" >450</text>
<text transform="translate(1556 656.1) scale(1.04 1.04)" font-size="27" text-anchor="middle" fill="#000" font-weight="normal" >400</text>
<text transform="translate(1591 651.8) scale(1.04 1.04)" font-size="27" text-anchor="start" fill="#000" font-weight="normal" >°C</text>
<text transform="translate(1295.3 1213.5) scale(1.04 1.04)" font-size="27.4" text-anchor="middle" fill="#000" font-weight="normal" >1000/T (1/K)</text>
<text transform="translate(896.2 900) rotate(-90) scale(1.04 1.04)" font-size="23.8" text-anchor="middle" fill="#000" font-weight="normal" >σ (S/cm)</text>
<line x1="1329.3" y1="726.4" x2="1394.3" y2="726.4" stroke="#ff0000" stroke-width="2.5" />
<circle cx="1361.4" cy="726.4" r="4.8" fill="#ff0000" stroke="#ff0000" stroke-width="0.4"/>
<line x1="1329.3" y1="777" x2="1394.3" y2="777" stroke="#0000ff" stroke-width="2.5" />
<rect x="1357.1" y="772.7" width="8.6" height="8.6" fill="#0000ff" stroke="#0000ff" stroke-width="0.4"/>
<text transform="translate(1409 734) scale(0.99 1.04)" font-size="25.4" text-anchor="start" fill="#000">σ<tspan font-size="17" dy="7">i</tspan><tspan dy="-7"> from EIS</tspan></text>
<text transform="translate(1409 785.1) scale(0.99 1.04)" font-size="25.4" text-anchor="start" fill="#000">σ<tspan font-size="17" dy="7">i</tspan><tspan dy="-7"> from I-V</tspan></text>
<rect x="1039.4" y="908.6" width="244.5" height="181.2" fill="#fff" stroke="#000" stroke-width="2.3"/>
<line x1="1054.5" y1="961.6" x2="1268.6" y2="1004.9" stroke="#ff0000" stroke-width="2.4" />
<line x1="1054.5" y1="973.5" x2="1268" y2="1026.5" stroke="#0000ff" stroke-width="2.4" />
<rect x="1052.6" y="957.3" width="3.8" height="3.8" fill="#ff0000" stroke="#ff0000" stroke-width="0.3"/>
<rect x="1152" y="990.8" width="3.8" height="3.8" fill="#ff0000" stroke="#ff0000" stroke-width="0.3"/>
<rect x="1266.1" y="1002.2" width="3.8" height="3.8" fill="#ff0000" stroke="#ff0000" stroke-width="0.3"/>
<circle cx="1054.5" cy="972.4" r="2.5" fill="#fff" stroke="#0000ff" stroke-width="2.1"/>
<circle cx="1153.3" cy="1001.4" r="2.5" fill="#fff" stroke="#0000ff" stroke-width="2.1"/>
<circle cx="1268" cy="1025.9" r="2.5" fill="#fff" stroke="#0000ff" stroke-width="2.1"/>
<line x1="1061.4" y1="1089.8" x2="1061.4" y2="1093.6" stroke="#000" stroke-width="1.5" />
<text transform="translate(1062.4 1107) scale(1.04 1.04)" font-size="11.3" text-anchor="middle" fill="#000" font-weight="normal" >1.30</text>
<line x1="1089.21" y1="1089.8" x2="1089.21" y2="1092" stroke="#000" stroke-width="1.5" />
<line x1="1117.02" y1="1089.8" x2="1117.02" y2="1093.6" stroke="#000" stroke-width="1.5" />
<text transform="translate(1118.02 1107) scale(1.04 1.04)" font-size="11.3" text-anchor="middle" fill="#000" font-weight="normal" >1.35</text>
<line x1="1144.83" y1="1089.8" x2="1144.83" y2="1092" stroke="#000" stroke-width="1.5" />
<line x1="1172.64" y1="1089.8" x2="1172.64" y2="1093.6" stroke="#000" stroke-width="1.5" />
<text transform="translate(1173.64 1107) scale(1.04 1.04)" font-size="11.3" text-anchor="middle" fill="#000" font-weight="normal" >1.40</text>
<line x1="1200.45" y1="1089.8" x2="1200.45" y2="1092" stroke="#000" stroke-width="1.5" />
<line x1="1228.26" y1="1089.8" x2="1228.26" y2="1093.6" stroke="#000" stroke-width="1.5" />
<text transform="translate(1229.26 1107) scale(1.04 1.04)" font-size="11.3" text-anchor="middle" fill="#000" font-weight="normal" >1.45</text>
<line x1="1256.07" y1="1089.8" x2="1256.07" y2="1092" stroke="#000" stroke-width="1.5" />
<line x1="1283.88" y1="1089.8" x2="1283.88" y2="1093.6" stroke="#000" stroke-width="1.5" />
<text transform="translate(1284.88 1107) scale(1.04 1.04)" font-size="11.3" text-anchor="middle" fill="#000" font-weight="normal" >1.50</text>
<line x1="1035.6" y1="1067.8" x2="1039.4" y2="1067.8" stroke="#000" stroke-width="1.5" />
<text transform="translate(1031.5 1071.8) scale(1.04 1.04)" font-size="11.3" text-anchor="end" fill="#000" font-weight="normal" >3</text>
<line x1="1037.2" y1="1044.95" x2="1039.4" y2="1044.95" stroke="#000" stroke-width="1.5" />
<line x1="1035.6" y1="1022.1" x2="1039.4" y2="1022.1" stroke="#000" stroke-width="1.5" />
<text transform="translate(1031.5 1026.1) scale(1.04 1.04)" font-size="11.3" text-anchor="end" fill="#000" font-weight="normal" >4</text>
<line x1="1037.2" y1="999.25" x2="1039.4" y2="999.25" stroke="#000" stroke-width="1.5" />
<line x1="1035.6" y1="976.4" x2="1039.4" y2="976.4" stroke="#000" stroke-width="1.5" />
<text transform="translate(1031.5 980.4) scale(1.04 1.04)" font-size="11.3" text-anchor="end" fill="#000" font-weight="normal" >5</text>
<line x1="1037.2" y1="953.55" x2="1039.4" y2="953.55" stroke="#000" stroke-width="1.5" />
<line x1="1035.6" y1="930.7" x2="1039.4" y2="930.7" stroke="#000" stroke-width="1.5" />
<text transform="translate(1031.5 934.7) scale(1.04 1.04)" font-size="11.3" text-anchor="end" fill="#000" font-weight="normal" >6</text>
<line x1="1054.5" y1="908.6" x2="1054.5" y2="912.4" stroke="#000" stroke-width="1.5" />
<line x1="1153.3" y1="908.6" x2="1153.3" y2="912.4" stroke="#000" stroke-width="1.5" />
<line x1="1267.1" y1="908.6" x2="1267.1" y2="912.4" stroke="#000" stroke-width="1.5" />
<line x1="1102.5" y1="908.6" x2="1102.5" y2="910.8" stroke="#000" stroke-width="1.5" />
<line x1="1208.5" y1="908.6" x2="1208.5" y2="910.8" stroke="#000" stroke-width="1.5" />
<text transform="translate(1055 901.8) scale(1.04 1.04)" font-size="11.3" text-anchor="middle" fill="#000" font-weight="normal" >500</text>
<text transform="translate(1153.8 901.8) scale(1.04 1.04)" font-size="11.3" text-anchor="middle" fill="#000" font-weight="normal" >450</text>
<text transform="translate(1266.5 901.8) scale(1.04 1.04)" font-size="11.3" text-anchor="middle" fill="#000" font-weight="normal" >400</text>
<text transform="translate(1276.5 898.6) scale(1.04 1.04)" font-size="11.3" text-anchor="start" fill="#000" font-weight="normal" >°C</text>
<text transform="translate(1161.8 1121.1) scale(1.04 1.04)" font-size="11.7" text-anchor="middle" fill="#000" font-weight="normal" >1000/T (1/K)</text>
<text transform="translate(1016.6 998.4) rotate(-90) scale(1.04 1.04)" font-size="11.3" text-anchor="middle" fill="#000">lnσT (Scm<tspan font-size="7.5" dy="-4.5">−1</tspan><tspan dy="4.5">K)</tspan></text>
<text transform="translate(1182.4 967.3) scale(1.04 1.04)" font-size="11.8" text-anchor="start" fill="#ff2a2a">E<tspan font-size="7.5" dy="2.6">a</tspan><tspan dy="-2.6"> = 0.62 eV</tspan></text>
<text transform="translate(1183.9 1048.4) scale(1.04 1.04)" font-size="11.8" text-anchor="start" fill="#1f1fff">E<tspan font-size="7.5" dy="2.6">a</tspan><tspan dy="-2.6"> = 0.75 eV</tspan></text>
<text transform="translate(876 646.5) scale(0.98 1.04)" font-size="42" text-anchor="start" fill="#000" font-weight="bold" >d</text>
</g>
</svg>
</body>
</html>
